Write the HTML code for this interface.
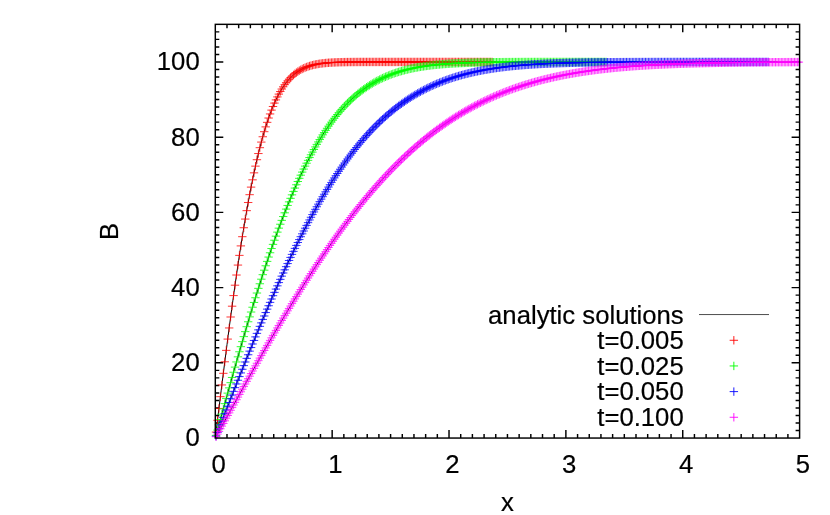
<!DOCTYPE html>
<html><head><meta charset="utf-8"><title>plot</title><style>html,body{margin:0;padding:0;background:#fff}svg{display:block;will-change:transform}text{font-family:"Liberation Sans",sans-serif;font-size:25.7px;fill:#000;stroke:#000;stroke-width:0.2px}</style></head><body>
<svg width="830" height="515" viewBox="0 0 830 515">
<rect width="830" height="515" fill="#fff"/>
<path d="M226.99 438.05v-4.00M226.99 24.34v4.00M238.67 438.05v-4.00M238.67 24.34v4.00M250.36 438.05v-4.00M250.36 24.34v4.00M262.04 438.05v-4.00M262.04 24.34v4.00M273.73 438.05v-4.00M273.73 24.34v4.00M285.42 438.05v-4.00M285.42 24.34v4.00M297.10 438.05v-4.00M297.10 24.34v4.00M308.79 438.05v-4.00M308.79 24.34v4.00M320.47 438.05v-4.00M320.47 24.34v4.00M332.16 438.05v-8.00M332.16 24.34v8.00M343.85 438.05v-4.00M343.85 24.34v4.00M355.53 438.05v-4.00M355.53 24.34v4.00M367.22 438.05v-4.00M367.22 24.34v4.00M378.90 438.05v-4.00M378.90 24.34v4.00M390.59 438.05v-4.00M390.59 24.34v4.00M402.28 438.05v-4.00M402.28 24.34v4.00M413.96 438.05v-4.00M413.96 24.34v4.00M425.65 438.05v-4.00M425.65 24.34v4.00M437.33 438.05v-4.00M437.33 24.34v4.00M449.02 438.05v-8.00M449.02 24.34v8.00M460.71 438.05v-4.00M460.71 24.34v4.00M472.39 438.05v-4.00M472.39 24.34v4.00M484.08 438.05v-4.00M484.08 24.34v4.00M495.76 438.05v-4.00M495.76 24.34v4.00M507.45 438.05v-4.00M507.45 24.34v4.00M519.14 438.05v-4.00M519.14 24.34v4.00M530.82 438.05v-4.00M530.82 24.34v4.00M542.51 438.05v-4.00M542.51 24.34v4.00M554.19 438.05v-4.00M554.19 24.34v4.00M565.88 438.05v-8.00M565.88 24.34v8.00M577.57 438.05v-4.00M577.57 24.34v4.00M589.25 438.05v-4.00M589.25 24.34v4.00M600.94 438.05v-4.00M600.94 24.34v4.00M612.62 438.05v-4.00M612.62 24.34v4.00M624.31 438.05v-4.00M624.31 24.34v4.00M636.00 438.05v-4.00M636.00 24.34v4.00M647.68 438.05v-4.00M647.68 24.34v4.00M659.37 438.05v-4.00M659.37 24.34v4.00M671.05 438.05v-4.00M671.05 24.34v4.00M682.74 438.05v-8.00M682.74 24.34v8.00M694.43 438.05v-4.00M694.43 24.34v4.00M706.11 438.05v-4.00M706.11 24.34v4.00M717.80 438.05v-4.00M717.80 24.34v4.00M729.48 438.05v-4.00M729.48 24.34v4.00M741.17 438.05v-4.00M741.17 24.34v4.00M752.86 438.05v-4.00M752.86 24.34v4.00M764.54 438.05v-4.00M764.54 24.34v4.00M776.23 438.05v-4.00M776.23 24.34v4.00M787.91 438.05v-4.00M787.91 24.34v4.00M215.30 430.53h4.00M799.60 430.53h-4.00M215.30 423.01h4.00M799.60 423.01h-4.00M215.30 415.48h4.00M799.60 415.48h-4.00M215.30 407.96h4.00M799.60 407.96h-4.00M215.30 400.44h4.00M799.60 400.44h-4.00M215.30 392.92h4.00M799.60 392.92h-4.00M215.30 385.40h4.00M799.60 385.40h-4.00M215.30 377.87h4.00M799.60 377.87h-4.00M215.30 370.35h4.00M799.60 370.35h-4.00M215.30 362.83h8.00M799.60 362.83h-8.00M215.30 355.31h4.00M799.60 355.31h-4.00M215.30 347.79h4.00M799.60 347.79h-4.00M215.30 340.26h4.00M799.60 340.26h-4.00M215.30 332.74h4.00M799.60 332.74h-4.00M215.30 325.22h4.00M799.60 325.22h-4.00M215.30 317.70h4.00M799.60 317.70h-4.00M215.30 310.18h4.00M799.60 310.18h-4.00M215.30 302.65h4.00M799.60 302.65h-4.00M215.30 295.13h4.00M799.60 295.13h-4.00M215.30 287.61h8.00M799.60 287.61h-8.00M215.30 280.09h4.00M799.60 280.09h-4.00M215.30 272.57h4.00M799.60 272.57h-4.00M215.30 265.04h4.00M799.60 265.04h-4.00M215.30 257.52h4.00M799.60 257.52h-4.00M215.30 250.00h4.00M799.60 250.00h-4.00M215.30 242.48h4.00M799.60 242.48h-4.00M215.30 234.96h4.00M799.60 234.96h-4.00M215.30 227.43h4.00M799.60 227.43h-4.00M215.30 219.91h4.00M799.60 219.91h-4.00M215.30 212.39h8.00M799.60 212.39h-8.00M215.30 204.87h4.00M799.60 204.87h-4.00M215.30 197.35h4.00M799.60 197.35h-4.00M215.30 189.82h4.00M799.60 189.82h-4.00M215.30 182.30h4.00M799.60 182.30h-4.00M215.30 174.78h4.00M799.60 174.78h-4.00M215.30 167.26h4.00M799.60 167.26h-4.00M215.30 159.74h4.00M799.60 159.74h-4.00M215.30 152.21h4.00M799.60 152.21h-4.00M215.30 144.69h4.00M799.60 144.69h-4.00M215.30 137.17h8.00M799.60 137.17h-8.00M215.30 129.65h4.00M799.60 129.65h-4.00M215.30 122.13h4.00M799.60 122.13h-4.00M215.30 114.60h4.00M799.60 114.60h-4.00M215.30 107.08h4.00M799.60 107.08h-4.00M215.30 99.56h4.00M799.60 99.56h-4.00M215.30 92.04h4.00M799.60 92.04h-4.00M215.30 84.52h4.00M799.60 84.52h-4.00M215.30 76.99h4.00M799.60 76.99h-4.00M215.30 69.47h4.00M799.60 69.47h-4.00M215.30 61.95h8.00M799.60 61.95h-8.00M215.30 54.43h4.00M799.60 54.43h-4.00M215.30 46.91h4.00M799.60 46.91h-4.00M215.30 39.38h4.00M799.60 39.38h-4.00M215.30 31.86h4.00M799.60 31.86h-4.00" stroke="#000" stroke-width="1.45" fill="none"/>
<polyline points="215.30,438.05 216.47,428.56 217.64,419.08 218.81,409.62 219.97,400.19 221.14,390.80 222.31,381.45 223.48,372.16 224.65,362.94 225.82,353.78 226.99,344.71 228.15,335.73 229.32,326.85 230.49,318.07 231.66,309.41 232.83,300.87 234.00,292.45 235.17,284.17 236.33,276.03 237.50,268.03 238.67,260.19 239.84,252.50 241.01,244.97 242.18,237.60 243.35,230.40 244.52,223.37 245.68,216.51 246.85,209.84 248.02,203.33 249.19,197.01 250.36,190.87 251.53,184.91 252.70,179.13 253.86,173.54 255.03,168.12 256.20,162.89 257.37,157.83 258.54,152.96 259.71,148.26 260.88,143.74 262.04,139.39 263.21,135.21 264.38,131.20 265.55,127.35 266.72,123.67 267.89,120.14 269.06,116.77 270.22,113.55 271.39,110.48 272.56,107.56 273.73,104.77 274.90,102.12 276.07,99.60 277.24,97.20 278.40,94.94 279.57,92.79 280.74,90.75 281.91,88.83 283.08,87.01 284.25,85.30 285.42,83.68 286.58,82.16 287.75,80.73 288.92,79.38 290.09,78.12 291.26,76.93 292.43,75.82 293.60,74.78 294.76,73.81 295.93,72.90 297.10,72.05 298.27,71.26 299.44,70.52 300.61,69.84 301.78,69.20 302.94,68.61 304.11,68.06 305.28,67.55 306.45,67.08 307.62,66.64 308.79,66.24 309.96,65.87 311.13,65.53 312.29,65.21 313.46,64.92 314.63,64.65 315.80,64.41 316.97,64.18 318.14,63.98 319.31,63.79 320.47,63.61 321.64,63.46 322.81,63.31 323.98,63.18 325.15,63.06 326.32,62.95 327.49,62.85 328.65,62.76 329.82,62.68 330.99,62.61 332.16,62.54 333.33,62.48 334.50,62.42 335.67,62.37 336.83,62.33 338.00,62.29 339.17,62.25 340.34,62.22 341.51,62.19 342.68,62.16 343.85,62.14 345.01,62.12 346.18,62.10 347.35,62.08 348.52,62.07 349.69,62.05 350.86,62.04 352.03,62.03 353.19,62.02 354.36,62.01 355.53,62.01 356.70,62.00 357.87,61.99 359.04,61.99 360.21,61.98 361.38,61.98 362.54,61.98 363.71,61.97 364.88,61.97 366.05,61.97 367.22,61.96 368.39,61.96 369.56,61.96 370.72,61.96 371.89,61.96 373.06,61.96 374.23,61.96 375.40,61.96 376.57,61.95 377.74,61.95 378.90,61.95 380.07,61.95 381.24,61.95 382.41,61.95 383.58,61.95 384.75,61.95 385.92,61.95 387.08,61.95 388.25,61.95 389.42,61.95 390.59,61.95 391.76,61.95 392.93,61.95 394.10,61.95 395.26,61.95 396.43,61.95 397.60,61.95 398.77,61.95 399.94,61.95 401.11,61.95 402.28,61.95 403.44,61.95 404.61,61.95 405.78,61.95 406.95,61.95 408.12,61.95 409.29,61.95 410.46,61.95 411.62,61.95 412.79,61.95 413.96,61.95 415.13,61.95 416.30,61.95 417.47,61.95 418.64,61.95 419.80,61.95 420.97,61.95 422.14,61.95 423.31,61.95 424.48,61.95 425.65,61.95 426.82,61.95 427.99,61.95 429.15,61.95 430.32,61.95 431.49,61.95 432.66,61.95 433.83,61.95 435.00,61.95 436.17,61.95 437.33,61.95 438.50,61.95 439.67,61.95 440.84,61.95 442.01,61.95 443.18,61.95 444.35,61.95 445.51,61.95 446.68,61.95 447.85,61.95 449.02,61.95 450.19,61.95 451.36,61.95 452.53,61.95 453.69,61.95 454.86,61.95 456.03,61.95 457.20,61.95 458.37,61.95 459.54,61.95 460.71,61.95 461.87,61.95 463.04,61.95 464.21,61.95 465.38,61.95 466.55,61.95 467.72,61.95 468.89,61.95 470.05,61.95 471.22,61.95 472.39,61.95 473.56,61.95 474.73,61.95 475.90,61.95 477.07,61.95 478.24,61.95 479.40,61.95 480.57,61.95 481.74,61.95 482.91,61.95 484.08,61.95 485.25,61.95 486.42,61.95 487.58,61.95 488.75,61.95 489.92,61.95 491.09,61.95 492.26,61.95 493.43,61.95 494.60,61.95 495.76,61.95" stroke="#000" stroke-width="1" fill="none"/>
<polyline points="215.30,438.05 216.47,433.81 217.64,429.56 218.81,425.32 219.97,421.08 221.14,416.85 222.31,412.62 223.48,408.39 224.65,404.17 225.82,399.96 226.99,395.75 228.15,391.56 229.32,387.37 230.49,383.19 231.66,379.02 232.83,374.87 234.00,370.72 235.17,366.59 236.33,362.48 237.50,358.38 238.67,354.29 239.84,350.22 241.01,346.17 242.18,342.14 243.35,338.12 244.52,334.12 245.68,330.15 246.85,326.19 248.02,322.26 249.19,318.34 250.36,314.45 251.53,310.59 252.70,306.74 253.86,302.93 255.03,299.13 256.20,295.36 257.37,291.62 258.54,287.91 259.71,284.22 260.88,280.56 262.04,276.93 263.21,273.33 264.38,269.76 265.55,266.21 266.72,262.70 267.89,259.22 269.06,255.77 270.22,252.35 271.39,248.97 272.56,245.61 273.73,242.29 274.90,239.00 276.07,235.75 277.24,232.52 278.40,229.34 279.57,226.18 280.74,223.07 281.91,219.98 283.08,216.93 284.25,213.92 285.42,210.94 286.58,208.00 287.75,205.09 288.92,202.22 290.09,199.38 291.26,196.58 292.43,193.82 293.60,191.09 294.76,188.40 295.93,185.75 297.10,183.13 298.27,180.55 299.44,178.00 300.61,175.49 301.78,173.02 302.94,170.58 304.11,168.18 305.28,165.82 306.45,163.49 307.62,161.20 308.79,158.95 309.96,156.73 311.13,154.54 312.29,152.39 313.46,150.28 314.63,148.20 315.80,146.16 316.97,144.15 318.14,142.18 319.31,140.24 320.47,138.33 321.64,136.46 322.81,134.62 323.98,132.82 325.15,131.05 326.32,129.31 327.49,127.61 328.65,125.94 329.82,124.30 330.99,122.69 332.16,121.11 333.33,119.56 334.50,118.05 335.67,116.57 336.83,115.11 338.00,113.69 339.17,112.29 340.34,110.93 341.51,109.59 342.68,108.28 343.85,107.00 345.01,105.75 346.18,104.53 347.35,103.33 348.52,102.16 349.69,101.02 350.86,99.90 352.03,98.81 353.19,97.74 354.36,96.70 355.53,95.68 356.70,94.69 357.87,93.72 359.04,92.77 360.21,91.85 361.38,90.95 362.54,90.07 363.71,89.21 364.88,88.38 366.05,87.56 367.22,86.77 368.39,86.00 369.56,85.24 370.72,84.51 371.89,83.80 373.06,83.10 374.23,82.42 375.40,81.77 376.57,81.13 377.74,80.50 378.90,79.90 380.07,79.31 381.24,78.73 382.41,78.18 383.58,77.63 384.75,77.11 385.92,76.60 387.08,76.10 388.25,75.62 389.42,75.15 390.59,74.70 391.76,74.26 392.93,73.83 394.10,73.41 395.26,73.01 396.43,72.62 397.60,72.24 398.77,71.88 399.94,71.52 401.11,71.18 402.28,70.85 403.44,70.52 404.61,70.21 405.78,69.91 406.95,69.61 408.12,69.33 409.29,69.06 410.46,68.79 411.62,68.53 412.79,68.29 413.96,68.05 415.13,67.81 416.30,67.59 417.47,67.37 418.64,67.16 419.80,66.96 420.97,66.77 422.14,66.58 423.31,66.40 424.48,66.22 425.65,66.05 426.82,65.89 427.99,65.73 429.15,65.58 430.32,65.43 431.49,65.29 432.66,65.16 433.83,65.03 435.00,64.90 436.17,64.78 437.33,64.66 438.50,64.55 439.67,64.44 440.84,64.34 442.01,64.24 443.18,64.14 444.35,64.05 445.51,63.96 446.68,63.87 447.85,63.79 449.02,63.71 450.19,63.63 451.36,63.56 452.53,63.49 453.69,63.42 454.86,63.36 456.03,63.30 457.20,63.24 458.37,63.18 459.54,63.12 460.71,63.07 461.87,63.02 463.04,62.97 464.21,62.93 465.38,62.88 466.55,62.84 467.72,62.80 468.89,62.76 470.05,62.72 471.22,62.68 472.39,62.65 473.56,62.62 474.73,62.59 475.90,62.56 477.07,62.53 478.24,62.50 479.40,62.47 480.57,62.45 481.74,62.42 482.91,62.40 484.08,62.38 485.25,62.36 486.42,62.34 487.58,62.32 488.75,62.30 489.92,62.28 491.09,62.27 492.26,62.25 493.43,62.24 494.60,62.22 495.76,62.21 496.93,62.20 498.10,62.18 499.27,62.17 500.44,62.16 501.61,62.15 502.78,62.14 503.94,62.13 505.11,62.12 506.28,62.11 507.45,62.10 508.62,62.10 509.79,62.09 510.96,62.08 512.12,62.07 513.29,62.07 514.46,62.06 515.63,62.05 516.80,62.05 517.97,62.04 519.14,62.04 520.30,62.03 521.47,62.03 522.64,62.03 523.81,62.02 524.98,62.02 526.15,62.01 527.32,62.01 528.48,62.01 529.65,62.00 530.82,62.00 531.99,62.00 533.16,62.00 534.33,61.99 535.50,61.99 536.66,61.99 537.83,61.99 539.00,61.98 540.17,61.98 541.34,61.98 542.51,61.98 543.68,61.98 544.85,61.98 546.01,61.97 547.18,61.97 548.35,61.97 549.52,61.97 550.69,61.97 551.86,61.97 553.03,61.97 554.19,61.97 555.36,61.96 556.53,61.96 557.70,61.96 558.87,61.96 560.04,61.96 561.21,61.96 562.37,61.96 563.54,61.96 564.71,61.96 565.88,61.96 567.05,61.96 568.22,61.96 569.39,61.96 570.55,61.96 571.72,61.96 572.89,61.96 574.06,61.96 575.23,61.95 576.40,61.95 577.57,61.95 578.73,61.95 579.90,61.95 581.07,61.95 582.24,61.95 583.41,61.95 584.58,61.95 585.75,61.95 586.91,61.95 588.08,61.95 589.25,61.95 590.42,61.95 591.59,61.95 592.76,61.95 593.93,61.95 595.10,61.95 596.26,61.95 597.43,61.95 598.60,61.95 599.77,61.95 600.94,61.95 602.11,61.95 603.28,61.95 604.44,61.95 605.61,61.95 606.78,61.95 607.95,61.95 609.12,61.95 610.29,61.95 611.46,61.95 612.62,61.95" stroke="#000" stroke-width="1" fill="none"/>
<polyline points="215.30,438.05 216.47,435.05 217.64,432.05 218.81,429.05 219.97,426.05 221.14,423.05 222.31,420.06 223.48,417.06 224.65,414.07 225.82,411.08 226.99,408.09 228.15,405.11 229.32,402.13 230.49,399.15 231.66,396.18 232.83,393.21 234.00,390.24 235.17,387.28 236.33,384.33 237.50,381.38 238.67,378.43 239.84,375.49 241.01,372.56 242.18,369.63 243.35,366.72 244.52,363.80 245.68,360.90 246.85,358.00 248.02,355.11 249.19,352.23 250.36,349.36 251.53,346.49 252.70,343.64 253.86,340.79 255.03,337.95 256.20,335.13 257.37,332.31 258.54,329.50 259.71,326.70 260.88,323.92 262.04,321.14 263.21,318.38 264.38,315.62 265.55,312.88 266.72,310.15 267.89,307.43 269.06,304.73 270.22,302.04 271.39,299.35 272.56,296.69 273.73,294.03 274.90,291.39 276.07,288.76 277.24,286.15 278.40,283.55 279.57,280.96 280.74,278.39 281.91,275.83 283.08,273.29 284.25,270.76 285.42,268.24 286.58,265.74 287.75,263.26 288.92,260.79 290.09,258.34 291.26,255.90 292.43,253.48 293.60,251.07 294.76,248.69 295.93,246.31 297.10,243.96 298.27,241.61 299.44,239.29 300.61,236.98 301.78,234.69 302.94,232.42 304.11,230.16 305.28,227.92 306.45,225.70 307.62,223.50 308.79,221.31 309.96,219.14 311.13,216.98 312.29,214.85 313.46,212.73 314.63,210.63 315.80,208.55 316.97,206.49 318.14,204.44 319.31,202.41 320.47,200.40 321.64,198.41 322.81,196.43 323.98,194.48 325.15,192.54 326.32,190.62 327.49,188.72 328.65,186.83 329.82,184.97 330.99,183.12 332.16,181.29 333.33,179.48 334.50,177.69 335.67,175.91 336.83,174.16 338.00,172.42 339.17,170.70 340.34,169.00 341.51,167.31 342.68,165.65 343.85,164.00 345.01,162.37 346.18,160.76 347.35,159.16 348.52,157.59 349.69,156.03 350.86,154.49 352.03,152.97 353.19,151.46 354.36,149.97 355.53,148.51 356.70,147.05 357.87,145.62 359.04,144.20 360.21,142.80 361.38,141.42 362.54,140.05 363.71,138.71 364.88,137.38 366.05,136.06 367.22,134.76 368.39,133.48 369.56,132.22 370.72,130.97 371.89,129.74 373.06,128.53 374.23,127.33 375.40,126.15 376.57,124.98 377.74,123.83 378.90,122.70 380.07,121.58 381.24,120.47 382.41,119.39 383.58,118.32 384.75,117.26 385.92,116.22 387.08,115.19 388.25,114.18 389.42,113.18 390.59,112.20 391.76,111.24 392.93,110.28 394.10,109.34 395.26,108.42 396.43,107.51 397.60,106.62 398.77,105.73 399.94,104.87 401.11,104.01 402.28,103.17 403.44,102.34 404.61,101.53 405.78,100.73 406.95,99.94 408.12,99.16 409.29,98.40 410.46,97.65 411.62,96.91 412.79,96.19 413.96,95.47 415.13,94.77 416.30,94.08 417.47,93.40 418.64,92.74 419.80,92.08 420.97,91.44 422.14,90.81 423.31,90.19 424.48,89.58 425.65,88.98 426.82,88.39 427.99,87.81 429.15,87.24 430.32,86.69 431.49,86.14 432.66,85.60 433.83,85.07 435.00,84.56 436.17,84.05 437.33,83.55 438.50,83.06 439.67,82.58 440.84,82.11 442.01,81.65 443.18,81.20 444.35,80.75 445.51,80.32 446.68,79.89 447.85,79.47 449.02,79.06 450.19,78.66 451.36,78.27 452.53,77.88 453.69,77.50 454.86,77.13 456.03,76.77 457.20,76.41 458.37,76.06 459.54,75.72 460.71,75.39 461.87,75.06 463.04,74.74 464.21,74.43 465.38,74.12 466.55,73.82 467.72,73.52 468.89,73.24 470.05,72.95 471.22,72.68 472.39,72.41 473.56,72.14 474.73,71.89 475.90,71.63 477.07,71.39 478.24,71.15 479.40,70.91 480.57,70.68 481.74,70.45 482.91,70.23 484.08,70.02 485.25,69.81 486.42,69.60 487.58,69.40 488.75,69.20 489.92,69.01 491.09,68.82 492.26,68.64 493.43,68.46 494.60,68.29 495.76,68.12 496.93,67.95 498.10,67.79 499.27,67.63 500.44,67.47 501.61,67.32 502.78,67.18 503.94,67.03 505.11,66.89 506.28,66.75 507.45,66.62 508.62,66.49 509.79,66.36 510.96,66.24 512.12,66.12 513.29,66.00 514.46,65.89 515.63,65.77 516.80,65.67 517.97,65.56 519.14,65.46 520.30,65.36 521.47,65.26 522.64,65.16 523.81,65.07 524.98,64.98 526.15,64.89 527.32,64.80 528.48,64.72 529.65,64.64 530.82,64.56 531.99,64.48 533.16,64.41 534.33,64.33 535.50,64.26 536.66,64.19 537.83,64.12 539.00,64.06 540.17,63.99 541.34,63.93 542.51,63.87 543.68,63.81 544.85,63.76 546.01,63.70 547.18,63.65 548.35,63.59 549.52,63.54 550.69,63.49 551.86,63.45 553.03,63.40 554.19,63.35 555.36,63.31 556.53,63.27 557.70,63.22 558.87,63.18 560.04,63.15 561.21,63.11 562.37,63.07 563.54,63.03 564.71,63.00 565.88,62.97 567.05,62.93 568.22,62.90 569.39,62.87 570.55,62.84 571.72,62.81 572.89,62.78 574.06,62.76 575.23,62.73 576.40,62.70 577.57,62.68 578.73,62.65 579.90,62.63 581.07,62.61 582.24,62.59 583.41,62.56 584.58,62.54 585.75,62.52 586.91,62.50 588.08,62.49 589.25,62.47 590.42,62.45 591.59,62.43 592.76,62.42 593.93,62.40 595.10,62.38 596.26,62.37 597.43,62.35 598.60,62.34 599.77,62.33 600.94,62.31 602.11,62.30 603.28,62.29 604.44,62.28 605.61,62.27 606.78,62.25 607.95,62.24 609.12,62.23 610.29,62.22 611.46,62.21 612.62,62.20 613.79,62.19 614.96,62.19 616.13,62.18 617.30,62.17 618.47,62.16 619.64,62.15 620.80,62.15 621.97,62.14 623.14,62.13 624.31,62.12 625.48,62.12 626.65,62.11 627.82,62.11 628.98,62.10 630.15,62.09 631.32,62.09 632.49,62.08 633.66,62.08 634.83,62.07 636.00,62.07 637.16,62.07 638.33,62.06 639.50,62.06 640.67,62.05 641.84,62.05 643.01,62.04 644.18,62.04 645.34,62.04 646.51,62.03 647.68,62.03 648.85,62.03 650.02,62.02 651.19,62.02 652.36,62.02 653.53,62.02 654.69,62.01 655.86,62.01 657.03,62.01 658.20,62.01 659.37,62.00 660.54,62.00 661.71,62.00 662.87,62.00 664.04,62.00 665.21,61.99 666.38,61.99 667.55,61.99 668.72,61.99 669.89,61.99 671.05,61.99 672.22,61.98 673.39,61.98 674.56,61.98 675.73,61.98 676.90,61.98 678.07,61.98 679.23,61.98 680.40,61.98 681.57,61.97 682.74,61.97 683.91,61.97 685.08,61.97 686.25,61.97 687.41,61.97 688.58,61.97 689.75,61.97 690.92,61.97 692.09,61.97 693.26,61.97 694.43,61.97 695.59,61.96 696.76,61.96 697.93,61.96 699.10,61.96 700.27,61.96 701.44,61.96 702.61,61.96 703.77,61.96 704.94,61.96 706.11,61.96 707.28,61.96 708.45,61.96 709.62,61.96 710.79,61.96 711.95,61.96 713.12,61.96 714.29,61.96 715.46,61.96 716.63,61.96 717.80,61.96 718.97,61.96 720.14,61.96 721.30,61.96 722.47,61.96 723.64,61.96 724.81,61.95 725.98,61.95 727.15,61.95 728.32,61.95 729.48,61.95 730.65,61.95 731.82,61.95 732.99,61.95 734.16,61.95 735.33,61.95 736.50,61.95 737.66,61.95 738.83,61.95 740.00,61.95 741.17,61.95 742.34,61.95 743.51,61.95 744.68,61.95 745.84,61.95 747.01,61.95 748.18,61.95 749.35,61.95 750.52,61.95 751.69,61.95 752.86,61.95 754.02,61.95 755.19,61.95 756.36,61.95 757.53,61.95 758.70,61.95 759.87,61.95 761.04,61.95 762.20,61.95 763.37,61.95 764.54,61.95 765.71,61.95 766.88,61.95 768.05,61.95 769.22,61.95 770.38,61.95 771.55,61.95 772.72,61.95 773.89,61.95 775.06,61.95 776.23,61.95 777.40,61.95" stroke="#000" stroke-width="1" fill="none"/>
<polyline points="215.30,438.05 216.47,435.93 217.64,433.81 218.81,431.68 219.97,429.56 221.14,427.44 222.31,425.32 223.48,423.20 224.65,421.08 225.82,418.97 226.99,416.85 228.15,414.73 229.32,412.62 230.49,410.50 231.66,408.39 232.83,406.28 234.00,404.17 235.17,402.06 236.33,399.96 237.50,397.85 238.67,395.75 239.84,393.65 241.01,391.56 242.18,389.46 243.35,387.37 244.52,385.28 245.68,383.19 246.85,381.10 248.02,379.02 249.19,376.94 250.36,374.87 251.53,372.79 252.70,370.72 253.86,368.66 255.03,366.59 256.20,364.53 257.37,362.48 258.54,360.43 259.71,358.38 260.88,356.33 262.04,354.29 263.21,352.25 264.38,350.22 265.55,348.19 266.72,346.17 267.89,344.15 269.06,342.14 270.22,340.13 271.39,338.12 272.56,336.12 273.73,334.12 274.90,332.13 276.07,330.15 277.24,328.17 278.40,326.19 279.57,324.22 280.74,322.26 281.91,320.30 283.08,318.34 284.25,316.40 285.42,314.45 286.58,312.52 287.75,310.59 288.92,308.66 290.09,306.74 291.26,304.83 292.43,302.93 293.60,301.03 294.76,299.13 295.93,297.24 297.10,295.36 298.27,293.49 299.44,291.62 300.61,289.76 301.78,287.91 302.94,286.06 304.11,284.22 305.28,282.39 306.45,280.56 307.62,278.74 308.79,276.93 309.96,275.13 311.13,273.33 312.29,271.54 313.46,269.76 314.63,267.98 315.80,266.21 316.97,264.46 318.14,262.70 319.31,260.96 320.47,259.22 321.64,257.49 322.81,255.77 323.98,254.06 325.15,252.35 326.32,250.66 327.49,248.97 328.65,247.28 329.82,245.61 330.99,243.95 332.16,242.29 333.33,240.64 334.50,239.00 335.67,237.37 336.83,235.75 338.00,234.13 339.17,232.52 340.34,230.93 341.51,229.34 342.68,227.76 343.85,226.18 345.01,224.62 346.18,223.07 347.35,221.52 348.52,219.98 349.69,218.45 350.86,216.93 352.03,215.42 353.19,213.92 354.36,212.42 355.53,210.94 356.70,209.46 357.87,208.00 359.04,206.54 360.21,205.09 361.38,203.65 362.54,202.22 363.71,200.80 364.88,199.38 366.05,197.98 367.22,196.58 368.39,195.20 369.56,193.82 370.72,192.45 371.89,191.09 373.06,189.74 374.23,188.40 375.40,187.07 376.57,185.75 377.74,184.43 378.90,183.13 380.07,181.83 381.24,180.55 382.41,179.27 383.58,178.00 384.75,176.74 385.92,175.49 387.08,174.25 388.25,173.02 389.42,171.80 390.59,170.58 391.76,169.38 392.93,168.18 394.10,167.00 395.26,165.82 396.43,164.65 397.60,163.49 398.77,162.34 399.94,161.20 401.11,160.07 402.28,158.95 403.44,157.83 404.61,156.73 405.78,155.63 406.95,154.54 408.12,153.46 409.29,152.39 410.46,151.33 411.62,150.28 412.79,149.24 413.96,148.20 415.13,147.18 416.30,146.16 417.47,145.15 418.64,144.15 419.80,143.16 420.97,142.18 422.14,141.20 423.31,140.24 424.48,139.28 425.65,138.33 426.82,137.39 427.99,136.46 429.15,135.54 430.32,134.62 431.49,133.72 432.66,132.82 433.83,131.93 435.00,131.05 436.17,130.18 437.33,129.31 438.50,128.46 439.67,127.61 440.84,126.77 442.01,125.94 443.18,125.11 444.35,124.30 445.51,123.49 446.68,122.69 447.85,121.89 449.02,121.11 450.19,120.33 451.36,119.56 452.53,118.80 453.69,118.05 454.86,117.30 456.03,116.57 457.20,115.83 458.37,115.11 459.54,114.40 460.71,113.69 461.87,112.99 463.04,112.29 464.21,111.61 465.38,110.93 466.55,110.26 467.72,109.59 468.89,108.93 470.05,108.28 471.22,107.64 472.39,107.00 473.56,106.38 474.73,105.75 475.90,105.14 477.07,104.53 478.24,103.93 479.40,103.33 480.57,102.74 481.74,102.16 482.91,101.59 484.08,101.02 485.25,100.46 486.42,99.90 487.58,99.35 488.75,98.81 489.92,98.27 491.09,97.74 492.26,97.22 493.43,96.70 494.60,96.19 495.76,95.68 496.93,95.18 498.10,94.69 499.27,94.20 500.44,93.72 501.61,93.24 502.78,92.77 503.94,92.31 505.11,91.85 506.28,91.39 507.45,90.95 508.62,90.51 509.79,90.07 510.96,89.64 512.12,89.21 513.29,88.79 514.46,88.38 515.63,87.97 516.80,87.56 517.97,87.16 519.14,86.77 520.30,86.38 521.47,86.00 522.64,85.62 523.81,85.24 524.98,84.87 526.15,84.51 527.32,84.15 528.48,83.80 529.65,83.45 530.82,83.10 531.99,82.76 533.16,82.42 534.33,82.09 535.50,81.77 536.66,81.44 537.83,81.13 539.00,80.81 540.17,80.50 541.34,80.20 542.51,79.90 543.68,79.60 544.85,79.31 546.01,79.02 547.18,78.73 548.35,78.45 549.52,78.18 550.69,77.90 551.86,77.63 553.03,77.37 554.19,77.11 555.36,76.85 556.53,76.60 557.70,76.35 558.87,76.10 560.04,75.86 561.21,75.62 562.37,75.38 563.54,75.15 564.71,74.92 565.88,74.70 567.05,74.48 568.22,74.26 569.39,74.04 570.55,73.83 571.72,73.62 572.89,73.41 574.06,73.21 575.23,73.01 576.40,72.82 577.57,72.62 578.73,72.43 579.90,72.24 581.07,72.06 582.24,71.88 583.41,71.70 584.58,71.52 585.75,71.35 586.91,71.18 588.08,71.01 589.25,70.85 590.42,70.68 591.59,70.52 592.76,70.36 593.93,70.21 595.10,70.06 596.26,69.91 597.43,69.76 598.60,69.61 599.77,69.47 600.94,69.33 602.11,69.19 603.28,69.06 604.44,68.92 605.61,68.79 606.78,68.66 607.95,68.53 609.12,68.41 610.29,68.29 611.46,68.17 612.62,68.05 613.79,67.93 614.96,67.81 616.13,67.70 617.30,67.59 618.47,67.48 619.64,67.37 620.80,67.27 621.97,67.16 623.14,67.06 624.31,66.96 625.48,66.86 626.65,66.77 627.82,66.67 628.98,66.58 630.15,66.49 631.32,66.40 632.49,66.31 633.66,66.22 634.83,66.14 636.00,66.05 637.16,65.97 638.33,65.89 639.50,65.81 640.67,65.73 641.84,65.66 643.01,65.58 644.18,65.51 645.34,65.43 646.51,65.36 647.68,65.29 648.85,65.22 650.02,65.16 651.19,65.09 652.36,65.03 653.53,64.96 654.69,64.90 655.86,64.84 657.03,64.78 658.20,64.72 659.37,64.66 660.54,64.60 661.71,64.55 662.87,64.49 664.04,64.44 665.21,64.39 666.38,64.34 667.55,64.29 668.72,64.24 669.89,64.19 671.05,64.14 672.22,64.09 673.39,64.05 674.56,64.00 675.73,63.96 676.90,63.91 678.07,63.87 679.23,63.83 680.40,63.79 681.57,63.75 682.74,63.71 683.91,63.67 685.08,63.63 686.25,63.60 687.41,63.56 688.58,63.52 689.75,63.49 690.92,63.46 692.09,63.42 693.26,63.39 694.43,63.36 695.59,63.33 696.76,63.30 697.93,63.26 699.10,63.24 700.27,63.21 701.44,63.18 702.61,63.15 703.77,63.12 704.94,63.10 706.11,63.07 707.28,63.05 708.45,63.02 709.62,63.00 710.79,62.97 711.95,62.95 713.12,62.93 714.29,62.90 715.46,62.88 716.63,62.86 717.80,62.84 718.97,62.82 720.14,62.80 721.30,62.78 722.47,62.76 723.64,62.74 724.81,62.72 725.98,62.70 727.15,62.68 728.32,62.67 729.48,62.65 730.65,62.63 731.82,62.62 732.99,62.60 734.16,62.59 735.33,62.57 736.50,62.56 737.66,62.54 738.83,62.53 740.00,62.51 741.17,62.50 742.34,62.49 743.51,62.47 744.68,62.46 745.84,62.45 747.01,62.44 748.18,62.42 749.35,62.41 750.52,62.40 751.69,62.39 752.86,62.38 754.02,62.37 755.19,62.36 756.36,62.35 757.53,62.34 758.70,62.33 759.87,62.32 761.04,62.31 762.20,62.30 763.37,62.29 764.54,62.28 765.71,62.28 766.88,62.27 768.05,62.26 769.22,62.25 770.38,62.24 771.55,62.24 772.72,62.23 773.89,62.22 775.06,62.22 776.23,62.21 777.40,62.20 778.57,62.20 779.73,62.19 780.90,62.18 782.07,62.18 783.24,62.17 784.41,62.17 785.58,62.16 786.75,62.15 787.91,62.15 789.08,62.14 790.25,62.14 791.42,62.13 792.59,62.13 793.76,62.12 794.93,62.12 796.09,62.12 797.26,62.11 798.43,62.11 799.60,62.10" stroke="#000" stroke-width="1" fill="none"/>
<path d="M211.83 432.12h8.4M216.03 427.92v8.4M213.29 420.27h8.4M217.49 416.07v8.4M214.75 408.44h8.4M218.95 404.24v8.4M216.21 396.67h8.4M220.41 392.47v8.4M217.67 384.95h8.4M221.87 380.75v8.4M219.13 373.32h8.4M223.33 369.12v8.4M220.59 361.79h8.4M224.79 357.59v8.4M222.06 350.37h8.4M226.26 346.17v8.4M223.52 339.09h8.4M227.72 334.89v8.4M224.98 327.96h8.4M229.18 323.76v8.4M226.44 316.99h8.4M230.64 312.79v8.4M227.90 306.19h8.4M232.10 301.99v8.4M229.36 295.60h8.4M233.56 291.40v8.4M230.82 285.20h8.4M235.02 281.00v8.4M232.28 275.02h8.4M236.48 270.82v8.4M233.74 265.07h8.4M237.94 260.87v8.4M235.20 255.36h8.4M239.40 251.16v8.4M236.66 245.90h8.4M240.86 241.70v8.4M238.12 236.69h8.4M242.32 232.49v8.4M239.58 227.74h8.4M243.78 223.54v8.4M241.05 219.07h8.4M245.25 214.87v8.4M242.51 210.66h8.4M246.71 206.46v8.4M243.97 202.53h8.4M248.17 198.33v8.4M245.43 194.69h8.4M249.63 190.49v8.4M246.89 187.12h8.4M251.09 182.92v8.4M248.35 179.84h8.4M252.55 175.64v8.4M249.81 172.85h8.4M254.01 168.65v8.4M251.27 166.14h8.4M255.47 161.94v8.4M252.73 159.71h8.4M256.93 155.51v8.4M254.19 153.56h8.4M258.39 149.36v8.4M255.65 147.69h8.4M259.85 143.49v8.4M257.11 142.09h8.4M261.31 137.89v8.4M258.57 136.76h8.4M262.77 132.56v8.4M260.04 131.69h8.4M264.24 127.49v8.4M261.50 126.88h8.4M265.70 122.68v8.4M262.96 122.33h8.4M267.16 118.13v8.4M264.42 118.02h8.4M268.62 113.82v8.4M265.88 113.95h8.4M270.08 109.75v8.4M267.34 110.11h8.4M271.54 105.91v8.4M268.80 106.49h8.4M273.00 102.29v8.4M270.26 103.09h8.4M274.46 98.89v8.4M271.72 99.90h8.4M275.92 95.70v8.4M273.18 96.91h8.4M277.38 92.71v8.4M274.64 94.12h8.4M278.84 89.92v8.4M276.10 91.50h8.4M280.30 87.30v8.4M277.56 89.06h8.4M281.76 84.86v8.4M279.02 86.79h8.4M283.22 82.59v8.4M280.49 84.68h8.4M284.69 80.48v8.4M281.95 82.72h8.4M286.15 78.52v8.4M283.41 80.90h8.4M287.61 76.70v8.4M284.87 79.22h8.4M289.07 75.02v8.4M286.33 77.66h8.4M290.53 73.46v8.4M287.79 76.23h8.4M291.99 72.03v8.4M289.25 74.91h8.4M293.45 70.71v8.4M290.71 73.69h8.4M294.91 69.49v8.4M292.17 72.57h8.4M296.37 68.37v8.4M293.63 71.55h8.4M297.83 67.35v8.4M295.09 70.61h8.4M299.29 66.41v8.4M296.55 69.76h8.4M300.75 65.56v8.4M298.01 68.97h8.4M302.21 64.77v8.4M299.48 68.26h8.4M303.68 64.06v8.4M300.94 67.61h8.4M305.14 63.41v8.4M302.40 67.02h8.4M306.60 62.82v8.4M303.86 66.49h8.4M308.06 62.29v8.4M305.32 66.01h8.4M309.52 61.81v8.4M306.78 65.57h8.4M310.98 61.37v8.4M308.24 65.17h8.4M312.44 60.97v8.4M309.70 64.82h8.4M313.90 60.62v8.4M311.16 64.50h8.4M315.36 60.30v8.4M312.62 64.21h8.4M316.82 60.01v8.4M314.08 63.95h8.4M318.28 59.75v8.4M315.54 63.72h8.4M319.74 59.52v8.4M317.00 63.51h8.4M321.20 59.31v8.4M318.47 63.33h8.4M322.67 59.13v8.4M319.93 63.17h8.4M324.13 58.97v8.4M321.39 63.02h8.4M325.59 58.82v8.4M322.85 62.89h8.4M327.05 58.69v8.4M324.31 62.77h8.4M328.51 58.57v8.4M325.77 62.67h8.4M329.97 58.47v8.4M327.23 62.58h8.4M331.43 58.38v8.4M328.69 62.50h8.4M332.89 58.30v8.4M330.15 62.43h8.4M334.35 58.23v8.4M331.61 62.37h8.4M335.81 58.17v8.4M333.07 62.31h8.4M337.27 58.11v8.4M334.53 62.26h8.4M338.73 58.06v8.4M335.99 62.22h8.4M340.19 58.02v8.4M337.45 62.19h8.4M341.65 57.99v8.4M338.92 62.15h8.4M343.12 57.95v8.4M340.38 62.13h8.4M344.58 57.93v8.4M341.84 62.10h8.4M346.04 57.90v8.4M343.30 62.08h8.4M347.50 57.88v8.4M344.76 62.06h8.4M348.96 57.86v8.4M346.22 62.05h8.4M350.42 57.85v8.4M347.68 62.03h8.4M351.88 57.83v8.4M349.14 62.02h8.4M353.34 57.82v8.4M350.60 62.01h8.4M354.80 57.81v8.4M352.06 62.00h8.4M356.26 57.80v8.4M353.52 61.99h8.4M357.72 57.79v8.4M354.98 61.99h8.4M359.18 57.79v8.4M356.44 61.98h8.4M360.64 57.78v8.4M357.91 61.98h8.4M362.11 57.78v8.4M359.37 61.97h8.4M363.57 57.77v8.4M360.83 61.97h8.4M365.03 57.77v8.4M362.29 61.97h8.4M366.49 57.77v8.4M363.75 61.96h8.4M367.95 57.76v8.4M365.21 61.96h8.4M369.41 57.76v8.4M366.67 61.96h8.4M370.87 57.76v8.4M368.13 61.96h8.4M372.33 57.76v8.4M369.59 61.96h8.4M373.79 57.76v8.4M371.05 61.96h8.4M375.25 57.76v8.4M372.51 61.95h8.4M376.71 57.75v8.4M373.97 61.95h8.4M378.17 57.75v8.4M375.43 61.95h8.4M379.63 57.75v8.4M376.90 61.95h8.4M381.10 57.75v8.4M378.36 61.95h8.4M382.56 57.75v8.4M379.82 61.95h8.4M384.02 57.75v8.4M381.28 61.95h8.4M385.48 57.75v8.4M382.74 61.95h8.4M386.94 57.75v8.4M384.20 61.95h8.4M388.40 57.75v8.4M385.66 61.95h8.4M389.86 57.75v8.4M387.12 61.95h8.4M391.32 57.75v8.4M388.58 61.95h8.4M392.78 57.75v8.4M390.04 61.95h8.4M394.24 57.75v8.4M391.50 61.95h8.4M395.70 57.75v8.4M392.96 61.95h8.4M397.16 57.75v8.4M394.42 61.95h8.4M398.62 57.75v8.4M395.88 61.95h8.4M400.08 57.75v8.4M397.35 61.95h8.4M401.55 57.75v8.4M398.81 61.95h8.4M403.01 57.75v8.4M400.27 61.95h8.4M404.47 57.75v8.4M401.73 61.95h8.4M405.93 57.75v8.4M403.19 61.95h8.4M407.39 57.75v8.4M404.65 61.95h8.4M408.85 57.75v8.4M406.11 61.95h8.4M410.31 57.75v8.4M407.57 61.95h8.4M411.77 57.75v8.4M409.03 61.95h8.4M413.23 57.75v8.4M410.49 61.95h8.4M414.69 57.75v8.4M411.95 61.95h8.4M416.15 57.75v8.4M413.41 61.95h8.4M417.61 57.75v8.4M414.87 61.95h8.4M419.07 57.75v8.4M416.34 61.95h8.4M420.54 57.75v8.4M417.80 61.95h8.4M422.00 57.75v8.4M419.26 61.95h8.4M423.46 57.75v8.4M420.72 61.95h8.4M424.92 57.75v8.4M422.18 61.95h8.4M426.38 57.75v8.4M423.64 61.95h8.4M427.84 57.75v8.4M425.10 61.95h8.4M429.30 57.75v8.4M426.56 61.95h8.4M430.76 57.75v8.4M428.02 61.95h8.4M432.22 57.75v8.4M429.48 61.95h8.4M433.68 57.75v8.4M430.94 61.95h8.4M435.14 57.75v8.4M432.40 61.95h8.4M436.60 57.75v8.4M433.86 61.95h8.4M438.06 57.75v8.4M435.33 61.95h8.4M439.53 57.75v8.4M436.79 61.95h8.4M440.99 57.75v8.4M438.25 61.95h8.4M442.45 57.75v8.4M439.71 61.95h8.4M443.91 57.75v8.4M441.17 61.95h8.4M445.37 57.75v8.4M442.63 61.95h8.4M446.83 57.75v8.4M444.09 61.95h8.4M448.29 57.75v8.4M445.55 61.95h8.4M449.75 57.75v8.4M447.01 61.95h8.4M451.21 57.75v8.4M448.47 61.95h8.4M452.67 57.75v8.4M449.93 61.95h8.4M454.13 57.75v8.4M451.39 61.95h8.4M455.59 57.75v8.4M452.85 61.95h8.4M457.05 57.75v8.4M454.31 61.95h8.4M458.51 57.75v8.4M455.78 61.95h8.4M459.98 57.75v8.4M457.24 61.95h8.4M461.44 57.75v8.4M458.70 61.95h8.4M462.90 57.75v8.4M460.16 61.95h8.4M464.36 57.75v8.4M461.62 61.95h8.4M465.82 57.75v8.4M463.08 61.95h8.4M467.28 57.75v8.4M464.54 61.95h8.4M468.74 57.75v8.4M466.00 61.95h8.4M470.20 57.75v8.4M467.46 61.95h8.4M471.66 57.75v8.4M468.92 61.95h8.4M473.12 57.75v8.4M470.38 61.95h8.4M474.58 57.75v8.4M471.84 61.95h8.4M476.04 57.75v8.4M473.30 61.95h8.4M477.50 57.75v8.4M474.77 61.95h8.4M478.97 57.75v8.4M476.23 61.95h8.4M480.43 57.75v8.4M477.69 61.95h8.4M481.89 57.75v8.4M479.15 61.95h8.4M483.35 57.75v8.4M480.61 61.95h8.4M484.81 57.75v8.4M482.07 61.95h8.4M486.27 57.75v8.4M483.53 61.95h8.4M487.73 57.75v8.4M484.99 61.95h8.4M489.19 57.75v8.4M486.45 61.95h8.4M490.65 57.75v8.4M487.91 61.95h8.4M492.11 57.75v8.4" stroke="#ff0000" stroke-width="0.8" fill="none"/>
<path d="M211.83 435.40h8.4M216.03 431.20v8.4M213.29 430.09h8.4M217.49 425.89v8.4M214.75 424.79h8.4M218.95 420.59v8.4M216.21 419.50h8.4M220.41 415.30v8.4M217.67 414.20h8.4M221.87 410.00v8.4M219.13 408.92h8.4M223.33 404.72v8.4M220.59 403.64h8.4M224.79 399.44v8.4M222.06 398.38h8.4M226.26 394.18v8.4M223.52 393.13h8.4M227.72 388.93v8.4M224.98 387.89h8.4M229.18 383.69v8.4M226.44 382.67h8.4M230.64 378.47v8.4M227.90 377.46h8.4M232.10 373.26v8.4M229.36 372.28h8.4M233.56 368.08v8.4M230.82 367.11h8.4M235.02 362.91v8.4M232.28 361.96h8.4M236.48 357.76v8.4M233.74 356.84h8.4M237.94 352.64v8.4M235.20 351.75h8.4M239.40 347.55v8.4M236.66 346.68h8.4M240.86 342.48v8.4M238.12 341.63h8.4M242.32 337.43v8.4M239.58 336.62h8.4M243.78 332.42v8.4M241.05 331.64h8.4M245.25 327.44v8.4M242.51 326.68h8.4M246.71 322.48v8.4M243.97 321.77h8.4M248.17 317.57v8.4M245.43 316.88h8.4M249.63 312.68v8.4M246.89 312.03h8.4M251.09 307.83v8.4M248.35 307.22h8.4M252.55 303.02v8.4M249.81 302.45h8.4M254.01 298.25v8.4M251.27 297.72h8.4M255.47 293.52v8.4M252.73 293.02h8.4M256.93 288.82v8.4M254.19 288.37h8.4M258.39 284.17v8.4M255.65 283.76h8.4M259.85 279.56v8.4M257.11 279.20h8.4M261.31 275.00v8.4M258.57 274.68h8.4M262.77 270.48v8.4M260.04 270.20h8.4M264.24 266.00v8.4M261.50 265.77h8.4M265.70 261.57v8.4M262.96 261.39h8.4M267.16 257.19v8.4M264.42 257.06h8.4M268.62 252.86v8.4M265.88 252.78h8.4M270.08 248.58v8.4M267.34 248.54h8.4M271.54 244.34v8.4M268.80 244.36h8.4M273.00 240.16v8.4M270.26 240.23h8.4M274.46 236.03v8.4M271.72 236.15h8.4M275.92 231.95v8.4M273.18 232.12h8.4M277.38 227.92v8.4M274.64 228.15h8.4M278.84 223.95v8.4M276.10 224.23h8.4M280.30 220.03v8.4M277.56 220.36h8.4M281.76 216.16v8.4M279.02 216.55h8.4M283.22 212.35v8.4M280.49 212.80h8.4M284.69 208.60v8.4M281.95 209.10h8.4M286.15 204.90v8.4M283.41 205.45h8.4M287.61 201.25v8.4M284.87 201.86h8.4M289.07 197.66v8.4M286.33 198.33h8.4M290.53 194.13v8.4M287.79 194.85h8.4M291.99 190.65v8.4M289.25 191.43h8.4M293.45 187.23v8.4M290.71 188.07h8.4M294.91 183.87v8.4M292.17 184.76h8.4M296.37 180.56v8.4M293.63 181.51h8.4M297.83 177.31v8.4M295.09 178.32h8.4M299.29 174.12v8.4M296.55 175.18h8.4M300.75 170.98v8.4M298.01 172.10h8.4M302.21 167.90v8.4M299.48 169.08h8.4M303.68 164.88v8.4M300.94 166.11h8.4M305.14 161.91v8.4M302.40 163.20h8.4M306.60 159.00v8.4M303.86 160.35h8.4M308.06 156.15v8.4M305.32 157.55h8.4M309.52 153.35v8.4M306.78 154.81h8.4M310.98 150.61v8.4M308.24 152.13h8.4M312.44 147.93v8.4M309.70 149.50h8.4M313.90 145.30v8.4M311.16 146.92h8.4M315.36 142.72v8.4M312.62 144.40h8.4M316.82 140.20v8.4M314.08 141.93h8.4M318.28 137.73v8.4M315.54 139.52h8.4M319.74 135.32v8.4M317.00 137.16h8.4M321.20 132.96v8.4M318.47 134.85h8.4M322.67 130.65v8.4M319.93 132.60h8.4M324.13 128.40v8.4M321.39 130.40h8.4M325.59 126.20v8.4M322.85 128.24h8.4M327.05 124.04v8.4M324.31 126.14h8.4M328.51 121.94v8.4M325.77 124.09h8.4M329.97 119.89v8.4M327.23 122.09h8.4M331.43 117.89v8.4M328.69 120.14h8.4M332.89 115.94v8.4M330.15 118.24h8.4M334.35 114.04v8.4M331.61 116.38h8.4M335.81 112.18v8.4M333.07 114.57h8.4M337.27 110.37v8.4M334.53 112.81h8.4M338.73 108.61v8.4M335.99 111.10h8.4M340.19 106.90v8.4M337.45 109.43h8.4M341.65 105.23v8.4M338.92 107.80h8.4M343.12 103.60v8.4M340.38 106.22h8.4M344.58 102.02v8.4M341.84 104.68h8.4M346.04 100.48v8.4M343.30 103.18h8.4M347.50 98.98v8.4M344.76 101.73h8.4M348.96 97.53v8.4M346.22 100.32h8.4M350.42 96.12v8.4M347.68 98.94h8.4M351.88 94.74v8.4M349.14 97.61h8.4M353.34 93.41v8.4M350.60 96.31h8.4M354.80 92.11v8.4M352.06 95.06h8.4M356.26 90.86v8.4M353.52 93.84h8.4M357.72 89.64v8.4M354.98 92.65h8.4M359.18 88.45v8.4M356.44 91.51h8.4M360.64 87.31v8.4M357.91 90.40h8.4M362.11 86.20v8.4M359.37 89.32h8.4M363.57 85.12v8.4M360.83 88.27h8.4M365.03 84.07v8.4M362.29 87.26h8.4M366.49 83.06v8.4M363.75 86.28h8.4M367.95 82.08v8.4M365.21 85.34h8.4M369.41 81.14v8.4M366.67 84.42h8.4M370.87 80.22v8.4M368.13 83.53h8.4M372.33 79.33v8.4M369.59 82.68h8.4M373.79 78.48v8.4M371.05 81.85h8.4M375.25 77.65v8.4M372.51 81.05h8.4M376.71 76.85v8.4M373.97 80.27h8.4M378.17 76.07v8.4M375.43 79.53h8.4M379.63 75.33v8.4M376.90 78.80h8.4M381.10 74.60v8.4M378.36 78.11h8.4M382.56 73.91v8.4M379.82 77.44h8.4M384.02 73.24v8.4M381.28 76.79h8.4M385.48 72.59v8.4M382.74 76.16h8.4M386.94 71.96v8.4M384.20 75.56h8.4M388.40 71.36v8.4M385.66 74.98h8.4M389.86 70.78v8.4M387.12 74.42h8.4M391.32 70.22v8.4M388.58 73.88h8.4M392.78 69.68v8.4M390.04 73.36h8.4M394.24 69.16v8.4M391.50 72.87h8.4M395.70 68.67v8.4M392.96 72.38h8.4M397.16 68.18v8.4M394.42 71.92h8.4M398.62 67.72v8.4M395.88 71.48h8.4M400.08 67.28v8.4M397.35 71.05h8.4M401.55 66.85v8.4M398.81 70.64h8.4M403.01 66.44v8.4M400.27 70.25h8.4M404.47 66.05v8.4M401.73 69.87h8.4M405.93 65.67v8.4M403.19 69.51h8.4M407.39 65.31v8.4M404.65 69.16h8.4M408.85 64.96v8.4M406.11 68.82h8.4M410.31 64.62v8.4M407.57 68.50h8.4M411.77 64.30v8.4M409.03 68.20h8.4M413.23 64.00v8.4M410.49 67.90h8.4M414.69 63.70v8.4M411.95 67.62h8.4M416.15 63.42v8.4M413.41 67.35h8.4M417.61 63.15v8.4M414.87 67.09h8.4M419.07 62.89v8.4M416.34 66.84h8.4M420.54 62.64v8.4M417.80 66.60h8.4M422.00 62.40v8.4M419.26 66.38h8.4M423.46 62.18v8.4M420.72 66.16h8.4M424.92 61.96v8.4M422.18 65.95h8.4M426.38 61.75v8.4M423.64 65.75h8.4M427.84 61.55v8.4M425.10 65.56h8.4M429.30 61.36v8.4M426.56 65.38h8.4M430.76 61.18v8.4M428.02 65.21h8.4M432.22 61.01v8.4M429.48 65.04h8.4M433.68 60.84v8.4M430.94 64.88h8.4M435.14 60.68v8.4M432.40 64.73h8.4M436.60 60.53v8.4M433.86 64.59h8.4M438.06 60.39v8.4M435.33 64.45h8.4M439.53 60.25v8.4M436.79 64.32h8.4M440.99 60.12v8.4M438.25 64.20h8.4M442.45 60.00v8.4M439.71 64.08h8.4M443.91 59.88v8.4M441.17 63.97h8.4M445.37 59.77v8.4M442.63 63.86h8.4M446.83 59.66v8.4M444.09 63.76h8.4M448.29 59.56v8.4M445.55 63.66h8.4M449.75 59.46v8.4M447.01 63.57h8.4M451.21 59.37v8.4M448.47 63.48h8.4M452.67 59.28v8.4M449.93 63.40h8.4M454.13 59.20v8.4M451.39 63.32h8.4M455.59 59.12v8.4M452.85 63.24h8.4M457.05 59.04v8.4M454.31 63.17h8.4M458.51 58.97v8.4M455.78 63.10h8.4M459.98 58.90v8.4M457.24 63.04h8.4M461.44 58.84v8.4M458.70 62.98h8.4M462.90 58.78v8.4M460.16 62.92h8.4M464.36 58.72v8.4M461.62 62.86h8.4M465.82 58.66v8.4M463.08 62.81h8.4M467.28 58.61v8.4M464.54 62.76h8.4M468.74 58.56v8.4M466.00 62.72h8.4M470.20 58.52v8.4M467.46 62.67h8.4M471.66 58.47v8.4M468.92 62.63h8.4M473.12 58.43v8.4M470.38 62.59h8.4M474.58 58.39v8.4M471.84 62.55h8.4M476.04 58.35v8.4M473.30 62.52h8.4M477.50 58.32v8.4M474.77 62.48h8.4M478.97 58.28v8.4M476.23 62.45h8.4M480.43 58.25v8.4M477.69 62.42h8.4M481.89 58.22v8.4M479.15 62.39h8.4M483.35 58.19v8.4M480.61 62.37h8.4M484.81 58.17v8.4M482.07 62.34h8.4M486.27 58.14v8.4M483.53 62.32h8.4M487.73 58.12v8.4M484.99 62.30h8.4M489.19 58.10v8.4M486.45 62.27h8.4M490.65 58.07v8.4M487.91 62.25h8.4M492.11 58.05v8.4M489.37 62.24h8.4M493.57 58.04v8.4M490.83 62.22h8.4M495.03 58.02v8.4M492.29 62.20h8.4M496.49 58.00v8.4M493.76 62.18h8.4M497.96 57.98v8.4M495.22 62.17h8.4M499.42 57.97v8.4M496.68 62.16h8.4M500.88 57.96v8.4M498.14 62.14h8.4M502.34 57.94v8.4M499.60 62.13h8.4M503.80 57.93v8.4M501.06 62.12h8.4M505.26 57.92v8.4M502.52 62.11h8.4M506.72 57.91v8.4M503.98 62.10h8.4M508.18 57.90v8.4M505.44 62.09h8.4M509.64 57.89v8.4M506.90 62.08h8.4M511.10 57.88v8.4M508.36 62.07h8.4M512.56 57.87v8.4M509.82 62.06h8.4M514.02 57.86v8.4M511.28 62.06h8.4M515.48 57.86v8.4M512.74 62.05h8.4M516.94 57.85v8.4M514.21 62.04h8.4M518.41 57.84v8.4M515.67 62.04h8.4M519.87 57.84v8.4M517.13 62.03h8.4M521.33 57.83v8.4M518.59 62.02h8.4M522.79 57.82v8.4M520.05 62.02h8.4M524.25 57.82v8.4M521.51 62.01h8.4M525.71 57.81v8.4M522.97 62.01h8.4M527.17 57.81v8.4M524.43 62.01h8.4M528.63 57.81v8.4M525.89 62.00h8.4M530.09 57.80v8.4M527.35 62.00h8.4M531.55 57.80v8.4M528.81 62.00h8.4M533.01 57.80v8.4M530.27 61.99h8.4M534.47 57.79v8.4M531.73 61.99h8.4M535.93 57.79v8.4M533.20 61.99h8.4M537.40 57.79v8.4M534.66 61.98h8.4M538.86 57.78v8.4M536.12 61.98h8.4M540.32 57.78v8.4M537.58 61.98h8.4M541.78 57.78v8.4M539.04 61.98h8.4M543.24 57.78v8.4M540.50 61.98h8.4M544.70 57.78v8.4M541.96 61.97h8.4M546.16 57.77v8.4M543.42 61.97h8.4M547.62 57.77v8.4M544.88 61.97h8.4M549.08 57.77v8.4M546.34 61.97h8.4M550.54 57.77v8.4M547.80 61.97h8.4M552.00 57.77v8.4M549.26 61.97h8.4M553.46 57.77v8.4M550.72 61.96h8.4M554.92 57.76v8.4M552.19 61.96h8.4M556.39 57.76v8.4M553.65 61.96h8.4M557.85 57.76v8.4M555.11 61.96h8.4M559.31 57.76v8.4M556.57 61.96h8.4M560.77 57.76v8.4M558.03 61.96h8.4M562.23 57.76v8.4M559.49 61.96h8.4M563.69 57.76v8.4M560.95 61.96h8.4M565.15 57.76v8.4M562.41 61.96h8.4M566.61 57.76v8.4M563.87 61.96h8.4M568.07 57.76v8.4M565.33 61.96h8.4M569.53 57.76v8.4M566.79 61.96h8.4M570.99 57.76v8.4M568.25 61.96h8.4M572.45 57.76v8.4M569.71 61.96h8.4M573.91 57.76v8.4M571.17 61.95h8.4M575.37 57.75v8.4M572.64 61.95h8.4M576.84 57.75v8.4M574.10 61.95h8.4M578.30 57.75v8.4M575.56 61.95h8.4M579.76 57.75v8.4M577.02 61.95h8.4M581.22 57.75v8.4M578.48 61.95h8.4M582.68 57.75v8.4M579.94 61.95h8.4M584.14 57.75v8.4M581.40 61.95h8.4M585.60 57.75v8.4M582.86 61.95h8.4M587.06 57.75v8.4M584.32 61.95h8.4M588.52 57.75v8.4M585.78 61.95h8.4M589.98 57.75v8.4M587.24 61.95h8.4M591.44 57.75v8.4M588.70 61.95h8.4M592.90 57.75v8.4M590.16 61.95h8.4M594.36 57.75v8.4M591.63 61.95h8.4M595.83 57.75v8.4M593.09 61.95h8.4M597.29 57.75v8.4M594.55 61.95h8.4M598.75 57.75v8.4M596.01 61.95h8.4M600.21 57.75v8.4M597.47 61.95h8.4M601.67 57.75v8.4M598.93 61.95h8.4M603.13 57.75v8.4M600.39 61.95h8.4M604.59 57.75v8.4M601.85 61.95h8.4M606.05 57.75v8.4" stroke="#00ff00" stroke-width="0.8" fill="none"/>
<path d="M211.83 436.17h8.4M216.03 431.97v8.4M213.29 432.42h8.4M217.49 428.22v8.4M214.75 428.67h8.4M218.95 424.47v8.4M216.21 424.93h8.4M220.41 420.73v8.4M217.67 421.18h8.4M221.87 416.98v8.4M219.13 417.44h8.4M223.33 413.24v8.4M220.59 413.69h8.4M224.79 409.49v8.4M222.06 409.96h8.4M226.26 405.76v8.4M223.52 406.23h8.4M227.72 402.03v8.4M224.98 402.50h8.4M229.18 398.30v8.4M226.44 398.78h8.4M230.64 394.58v8.4M227.90 395.06h8.4M232.10 390.86v8.4M229.36 391.35h8.4M233.56 387.15v8.4M230.82 387.65h8.4M235.02 383.45v8.4M232.28 383.96h8.4M236.48 379.76v8.4M233.74 380.27h8.4M237.94 376.07v8.4M235.20 376.59h8.4M239.40 372.39v8.4M236.66 372.93h8.4M240.86 368.73v8.4M238.12 369.27h8.4M242.32 365.07v8.4M239.58 365.62h8.4M243.78 361.42v8.4M241.05 361.99h8.4M245.25 357.79v8.4M242.51 358.36h8.4M246.71 354.16v8.4M243.97 354.75h8.4M248.17 350.55v8.4M245.43 351.15h8.4M249.63 346.95v8.4M246.89 347.57h8.4M251.09 343.37v8.4M248.35 343.99h8.4M252.55 339.79v8.4M249.81 340.44h8.4M254.01 336.24v8.4M251.27 336.89h8.4M255.47 332.69v8.4M252.73 333.36h8.4M256.93 329.16v8.4M254.19 329.85h8.4M258.39 325.65v8.4M255.65 326.35h8.4M259.85 322.15v8.4M257.11 322.88h8.4M261.31 318.68v8.4M258.57 319.41h8.4M262.77 315.21v8.4M260.04 315.97h8.4M264.24 311.77v8.4M261.50 312.54h8.4M265.70 308.34v8.4M262.96 309.13h8.4M267.16 304.93v8.4M264.42 305.74h8.4M268.62 301.54v8.4M265.88 302.37h8.4M270.08 298.17v8.4M267.34 299.02h8.4M271.54 294.82v8.4M268.80 295.69h8.4M273.00 291.49v8.4M270.26 292.38h8.4M274.46 288.18v8.4M271.72 289.09h8.4M275.92 284.89v8.4M273.18 285.82h8.4M277.38 281.62v8.4M274.64 282.58h8.4M278.84 278.38v8.4M276.10 279.35h8.4M280.30 275.15v8.4M277.56 276.15h8.4M281.76 271.95v8.4M279.02 272.97h8.4M283.22 268.77v8.4M280.49 269.81h8.4M284.69 265.61v8.4M281.95 266.68h8.4M286.15 262.48v8.4M283.41 263.57h8.4M287.61 259.37v8.4M284.87 260.48h8.4M289.07 256.28v8.4M286.33 257.42h8.4M290.53 253.22v8.4M287.79 254.39h8.4M291.99 250.19v8.4M289.25 251.37h8.4M293.45 247.17v8.4M290.71 248.39h8.4M294.91 244.19v8.4M292.17 245.43h8.4M296.37 241.23v8.4M293.63 242.49h8.4M297.83 238.29v8.4M295.09 239.58h8.4M299.29 235.38v8.4M296.55 236.70h8.4M300.75 232.50v8.4M298.01 233.84h8.4M302.21 229.64v8.4M299.48 231.01h8.4M303.68 226.81v8.4M300.94 228.20h8.4M305.14 224.00v8.4M302.40 225.42h8.4M306.60 221.22v8.4M303.86 222.67h8.4M308.06 218.47v8.4M305.32 219.95h8.4M309.52 215.75v8.4M306.78 217.25h8.4M310.98 213.05v8.4M308.24 214.58h8.4M312.44 210.38v8.4M309.70 211.94h8.4M313.90 207.74v8.4M311.16 209.33h8.4M315.36 205.13v8.4M312.62 206.74h8.4M316.82 202.54v8.4M314.08 204.18h8.4M318.28 199.98v8.4M315.54 201.65h8.4M319.74 197.45v8.4M317.00 199.15h8.4M321.20 194.95v8.4M318.47 196.68h8.4M322.67 192.48v8.4M319.93 194.23h8.4M324.13 190.03v8.4M321.39 191.82h8.4M325.59 187.62v8.4M322.85 189.43h8.4M327.05 185.23v8.4M324.31 187.07h8.4M328.51 182.87v8.4M325.77 184.74h8.4M329.97 180.54v8.4M327.23 182.43h8.4M331.43 178.23v8.4M328.69 180.16h8.4M332.89 175.96v8.4M330.15 177.91h8.4M334.35 173.71v8.4M331.61 175.69h8.4M335.81 171.49v8.4M333.07 173.50h8.4M337.27 169.30v8.4M334.53 171.34h8.4M338.73 167.14v8.4M335.99 169.21h8.4M340.19 165.01v8.4M337.45 167.10h8.4M341.65 162.90v8.4M338.92 165.03h8.4M343.12 160.83v8.4M340.38 162.98h8.4M344.58 158.78v8.4M341.84 160.96h8.4M346.04 156.76v8.4M343.30 158.96h8.4M347.50 154.76v8.4M344.76 157.00h8.4M348.96 152.80v8.4M346.22 155.06h8.4M350.42 150.86v8.4M347.68 153.16h8.4M351.88 148.96v8.4M349.14 151.28h8.4M353.34 147.08v8.4M350.60 149.42h8.4M354.80 145.22v8.4M352.06 147.60h8.4M356.26 143.40v8.4M353.52 145.80h8.4M357.72 141.60v8.4M354.98 144.03h8.4M359.18 139.83v8.4M356.44 142.28h8.4M360.64 138.08v8.4M357.91 140.56h8.4M362.11 136.36v8.4M359.37 138.87h8.4M363.57 134.67v8.4M360.83 137.21h8.4M365.03 133.01v8.4M362.29 135.57h8.4M366.49 131.37v8.4M363.75 133.96h8.4M367.95 129.76v8.4M365.21 132.38h8.4M369.41 128.18v8.4M366.67 130.82h8.4M370.87 126.62v8.4M368.13 129.28h8.4M372.33 125.08v8.4M369.59 127.77h8.4M373.79 123.57v8.4M371.05 126.29h8.4M375.25 122.09v8.4M372.51 124.83h8.4M376.71 120.63v8.4M373.97 123.40h8.4M378.17 119.20v8.4M375.43 121.99h8.4M379.63 117.79v8.4M376.90 120.61h8.4M381.10 116.41v8.4M378.36 119.25h8.4M382.56 115.05v8.4M379.82 117.92h8.4M384.02 113.72v8.4M381.28 116.61h8.4M385.48 112.41v8.4M382.74 115.32h8.4M386.94 111.12v8.4M384.20 114.05h8.4M388.40 109.85v8.4M385.66 112.81h8.4M389.86 108.61v8.4M387.12 111.60h8.4M391.32 107.40v8.4M388.58 110.40h8.4M392.78 106.20v8.4M390.04 109.23h8.4M394.24 105.03v8.4M391.50 108.08h8.4M395.70 103.88v8.4M392.96 106.95h8.4M397.16 102.75v8.4M394.42 105.84h8.4M398.62 101.64v8.4M395.88 104.76h8.4M400.08 100.56v8.4M397.35 103.69h8.4M401.55 99.49v8.4M398.81 102.65h8.4M403.01 98.45v8.4M400.27 101.63h8.4M404.47 97.43v8.4M401.73 100.63h8.4M405.93 96.43v8.4M403.19 99.65h8.4M407.39 95.45v8.4M404.65 98.68h8.4M408.85 94.48v8.4M406.11 97.74h8.4M410.31 93.54v8.4M407.57 96.82h8.4M411.77 92.62v8.4M409.03 95.92h8.4M413.23 91.72v8.4M410.49 95.03h8.4M414.69 90.83v8.4M411.95 94.17h8.4M416.15 89.97v8.4M413.41 93.32h8.4M417.61 89.12v8.4M414.87 92.49h8.4M419.07 88.29v8.4M416.34 91.68h8.4M420.54 87.48v8.4M417.80 90.89h8.4M422.00 86.69v8.4M419.26 90.11h8.4M423.46 85.91v8.4M420.72 89.35h8.4M424.92 85.15v8.4M422.18 88.61h8.4M426.38 84.41v8.4M423.64 87.88h8.4M427.84 83.68v8.4M425.10 87.17h8.4M429.30 82.97v8.4M426.56 86.48h8.4M430.76 82.28v8.4M428.02 85.80h8.4M432.22 81.60v8.4M429.48 85.14h8.4M433.68 80.94v8.4M430.94 84.49h8.4M435.14 80.29v8.4M432.40 83.86h8.4M436.60 79.66v8.4M433.86 83.24h8.4M438.06 79.04v8.4M435.33 82.64h8.4M439.53 78.44v8.4M436.79 82.05h8.4M440.99 77.85v8.4M438.25 81.48h8.4M442.45 77.28v8.4M439.71 80.92h8.4M443.91 76.72v8.4M441.17 80.37h8.4M445.37 76.17v8.4M442.63 79.84h8.4M446.83 75.64v8.4M444.09 79.32h8.4M448.29 75.12v8.4M445.55 78.81h8.4M449.75 74.61v8.4M447.01 78.32h8.4M451.21 74.12v8.4M448.47 77.83h8.4M452.67 73.63v8.4M449.93 77.36h8.4M454.13 73.16v8.4M451.39 76.90h8.4M455.59 72.70v8.4M452.85 76.46h8.4M457.05 72.26v8.4M454.31 76.02h8.4M458.51 71.82v8.4M455.78 75.60h8.4M459.98 71.40v8.4M457.24 75.18h8.4M461.44 70.98v8.4M458.70 74.78h8.4M462.90 70.58v8.4M460.16 74.39h8.4M464.36 70.19v8.4M461.62 74.01h8.4M465.82 69.81v8.4M463.08 73.63h8.4M467.28 69.43v8.4M464.54 73.27h8.4M468.74 69.07v8.4M466.00 72.92h8.4M470.20 68.72v8.4M467.46 72.58h8.4M471.66 68.38v8.4M468.92 72.24h8.4M473.12 68.04v8.4M470.38 71.92h8.4M474.58 67.72v8.4M471.84 71.60h8.4M476.04 67.40v8.4M473.30 71.30h8.4M477.50 67.10v8.4M474.77 71.00h8.4M478.97 66.80v8.4M476.23 70.71h8.4M480.43 66.51v8.4M477.69 70.42h8.4M481.89 66.22v8.4M479.15 70.15h8.4M483.35 65.95v8.4M480.61 69.88h8.4M484.81 65.68v8.4M482.07 69.63h8.4M486.27 65.43v8.4M483.53 69.37h8.4M487.73 65.17v8.4M484.99 69.13h8.4M489.19 64.93v8.4M486.45 68.89h8.4M490.65 64.69v8.4M487.91 68.66h8.4M492.11 64.46v8.4M489.37 68.44h8.4M493.57 64.24v8.4M490.83 68.22h8.4M495.03 64.02v8.4M492.29 68.01h8.4M496.49 63.81v8.4M493.76 67.81h8.4M497.96 63.61v8.4M495.22 67.61h8.4M499.42 63.41v8.4M496.68 67.42h8.4M500.88 63.22v8.4M498.14 67.23h8.4M502.34 63.03v8.4M499.60 67.05h8.4M503.80 62.85v8.4M501.06 66.87h8.4M505.26 62.67v8.4M502.52 66.70h8.4M506.72 62.50v8.4M503.98 66.54h8.4M508.18 62.34v8.4M505.44 66.38h8.4M509.64 62.18v8.4M506.90 66.22h8.4M511.10 62.02v8.4M508.36 66.07h8.4M512.56 61.87v8.4M509.82 65.93h8.4M514.02 61.73v8.4M511.28 65.79h8.4M515.48 61.59v8.4M512.74 65.65h8.4M516.94 61.45v8.4M514.21 65.52h8.4M518.41 61.32v8.4M515.67 65.39h8.4M519.87 61.19v8.4M517.13 65.27h8.4M521.33 61.07v8.4M518.59 65.15h8.4M522.79 60.95v8.4M520.05 65.03h8.4M524.25 60.83v8.4M521.51 64.92h8.4M525.71 60.72v8.4M522.97 64.81h8.4M527.17 60.61v8.4M524.43 64.71h8.4M528.63 60.51v8.4M525.89 64.61h8.4M530.09 60.41v8.4M527.35 64.51h8.4M531.55 60.31v8.4M528.81 64.41h8.4M533.01 60.21v8.4M530.27 64.32h8.4M534.47 60.12v8.4M531.73 64.23h8.4M535.93 60.03v8.4M533.20 64.15h8.4M537.40 59.95v8.4M534.66 64.07h8.4M538.86 59.87v8.4M536.12 63.99h8.4M540.32 59.79v8.4M537.58 63.91h8.4M541.78 59.71v8.4M539.04 63.84h8.4M543.24 59.64v8.4M540.50 63.76h8.4M544.70 59.56v8.4M541.96 63.69h8.4M546.16 59.49v8.4M543.42 63.63h8.4M547.62 59.43v8.4M544.88 63.56h8.4M549.08 59.36v8.4M546.34 63.50h8.4M550.54 59.30v8.4M547.80 63.44h8.4M552.00 59.24v8.4M549.26 63.38h8.4M553.46 59.18v8.4M550.72 63.33h8.4M554.92 59.13v8.4M552.19 63.27h8.4M556.39 59.07v8.4M553.65 63.22h8.4M557.85 59.02v8.4M555.11 63.17h8.4M559.31 58.97v8.4M556.57 63.12h8.4M560.77 58.92v8.4M558.03 63.07h8.4M562.23 58.87v8.4M559.49 63.03h8.4M563.69 58.83v8.4M560.95 62.99h8.4M565.15 58.79v8.4M562.41 62.94h8.4M566.61 58.74v8.4M563.87 62.90h8.4M568.07 58.70v8.4M565.33 62.87h8.4M569.53 58.67v8.4M566.79 62.83h8.4M570.99 58.63v8.4M568.25 62.79h8.4M572.45 58.59v8.4M569.71 62.76h8.4M573.91 58.56v8.4M571.17 62.73h8.4M575.37 58.53v8.4M572.64 62.69h8.4M576.84 58.49v8.4M574.10 62.66h8.4M578.30 58.46v8.4M575.56 62.63h8.4M579.76 58.43v8.4M577.02 62.60h8.4M581.22 58.40v8.4M578.48 62.58h8.4M582.68 58.38v8.4M579.94 62.55h8.4M584.14 58.35v8.4M581.40 62.53h8.4M585.60 58.33v8.4M582.86 62.50h8.4M587.06 58.30v8.4M584.32 62.48h8.4M588.52 58.28v8.4M585.78 62.46h8.4M589.98 58.26v8.4M587.24 62.43h8.4M591.44 58.23v8.4M588.70 62.41h8.4M592.90 58.21v8.4M590.16 62.39h8.4M594.36 58.19v8.4M591.63 62.37h8.4M595.83 58.17v8.4M593.09 62.36h8.4M597.29 58.16v8.4M594.55 62.34h8.4M598.75 58.14v8.4M596.01 62.32h8.4M600.21 58.12v8.4M597.47 62.31h8.4M601.67 58.11v8.4M598.93 62.29h8.4M603.13 58.09v8.4M600.39 62.28h8.4M604.59 58.08v8.4M601.85 62.26h8.4M606.05 58.06v8.4M603.31 62.25h8.4M607.51 58.05v8.4M604.77 62.23h8.4M608.97 58.03v8.4M606.23 62.22h8.4M610.43 58.02v8.4M607.69 62.21h8.4M611.89 58.01v8.4M609.15 62.20h8.4M613.35 58.00v8.4M610.62 62.19h8.4M614.82 57.99v8.4M612.08 62.18h8.4M616.28 57.98v8.4M613.54 62.17h8.4M617.74 57.97v8.4M615.00 62.16h8.4M619.20 57.96v8.4M616.46 62.15h8.4M620.66 57.95v8.4M617.92 62.14h8.4M622.12 57.94v8.4M619.38 62.13h8.4M623.58 57.93v8.4M620.84 62.12h8.4M625.04 57.92v8.4M622.30 62.11h8.4M626.50 57.91v8.4M623.76 62.11h8.4M627.96 57.91v8.4M625.22 62.10h8.4M629.42 57.90v8.4M626.68 62.09h8.4M630.88 57.89v8.4M628.14 62.08h8.4M632.34 57.88v8.4M629.60 62.08h8.4M633.80 57.88v8.4M631.07 62.07h8.4M635.27 57.87v8.4M632.53 62.07h8.4M636.73 57.87v8.4M633.99 62.06h8.4M638.19 57.86v8.4M635.45 62.06h8.4M639.65 57.86v8.4M636.91 62.05h8.4M641.11 57.85v8.4M638.37 62.05h8.4M642.57 57.85v8.4M639.83 62.04h8.4M644.03 57.84v8.4M641.29 62.04h8.4M645.49 57.84v8.4M642.75 62.03h8.4M646.95 57.83v8.4M644.21 62.03h8.4M648.41 57.83v8.4M645.67 62.03h8.4M649.87 57.83v8.4M647.13 62.02h8.4M651.33 57.82v8.4M648.59 62.02h8.4M652.79 57.82v8.4M650.06 62.01h8.4M654.26 57.81v8.4M651.52 62.01h8.4M655.72 57.81v8.4M652.98 62.01h8.4M657.18 57.81v8.4M654.44 62.01h8.4M658.64 57.81v8.4M655.90 62.00h8.4M660.10 57.80v8.4M657.36 62.00h8.4M661.56 57.80v8.4M658.82 62.00h8.4M663.02 57.80v8.4M660.28 62.00h8.4M664.48 57.80v8.4M661.74 61.99h8.4M665.94 57.79v8.4M663.20 61.99h8.4M667.40 57.79v8.4M664.66 61.99h8.4M668.86 57.79v8.4M666.12 61.99h8.4M670.32 57.79v8.4M667.58 61.99h8.4M671.78 57.79v8.4M669.05 61.98h8.4M673.25 57.78v8.4M670.51 61.98h8.4M674.71 57.78v8.4M671.97 61.98h8.4M676.17 57.78v8.4M673.43 61.98h8.4M677.63 57.78v8.4M674.89 61.98h8.4M679.09 57.78v8.4M676.35 61.98h8.4M680.55 57.78v8.4M677.81 61.97h8.4M682.01 57.77v8.4M679.27 61.97h8.4M683.47 57.77v8.4M680.73 61.97h8.4M684.93 57.77v8.4M682.19 61.97h8.4M686.39 57.77v8.4M683.65 61.97h8.4M687.85 57.77v8.4M685.11 61.97h8.4M689.31 57.77v8.4M686.57 61.97h8.4M690.77 57.77v8.4M688.03 61.97h8.4M692.23 57.77v8.4M689.50 61.97h8.4M693.70 57.77v8.4M690.96 61.97h8.4M695.16 57.77v8.4M692.42 61.96h8.4M696.62 57.76v8.4M693.88 61.96h8.4M698.08 57.76v8.4M695.34 61.96h8.4M699.54 57.76v8.4M696.80 61.96h8.4M701.00 57.76v8.4M698.26 61.96h8.4M702.46 57.76v8.4M699.72 61.96h8.4M703.92 57.76v8.4M701.18 61.96h8.4M705.38 57.76v8.4M702.64 61.96h8.4M706.84 57.76v8.4M704.10 61.96h8.4M708.30 57.76v8.4M705.56 61.96h8.4M709.76 57.76v8.4M707.02 61.96h8.4M711.22 57.76v8.4M708.49 61.96h8.4M712.69 57.76v8.4M709.95 61.96h8.4M714.15 57.76v8.4M711.41 61.96h8.4M715.61 57.76v8.4M712.87 61.96h8.4M717.07 57.76v8.4M714.33 61.96h8.4M718.53 57.76v8.4M715.79 61.96h8.4M719.99 57.76v8.4M717.25 61.96h8.4M721.45 57.76v8.4M718.71 61.96h8.4M722.91 57.76v8.4M720.17 61.95h8.4M724.37 57.75v8.4M721.63 61.95h8.4M725.83 57.75v8.4M723.09 61.95h8.4M727.29 57.75v8.4M724.55 61.95h8.4M728.75 57.75v8.4M726.01 61.95h8.4M730.21 57.75v8.4M727.48 61.95h8.4M731.68 57.75v8.4M728.94 61.95h8.4M733.14 57.75v8.4M730.40 61.95h8.4M734.60 57.75v8.4M731.86 61.95h8.4M736.06 57.75v8.4M733.32 61.95h8.4M737.52 57.75v8.4M734.78 61.95h8.4M738.98 57.75v8.4M736.24 61.95h8.4M740.44 57.75v8.4M737.70 61.95h8.4M741.90 57.75v8.4M739.16 61.95h8.4M743.36 57.75v8.4M740.62 61.95h8.4M744.82 57.75v8.4M742.08 61.95h8.4M746.28 57.75v8.4M743.54 61.95h8.4M747.74 57.75v8.4M745.00 61.95h8.4M749.20 57.75v8.4M746.46 61.95h8.4M750.66 57.75v8.4M747.93 61.95h8.4M752.13 57.75v8.4M749.39 61.95h8.4M753.59 57.75v8.4M750.85 61.95h8.4M755.05 57.75v8.4M752.31 61.95h8.4M756.51 57.75v8.4M753.77 61.95h8.4M757.97 57.75v8.4M755.23 61.95h8.4M759.43 57.75v8.4M756.69 61.95h8.4M760.89 57.75v8.4M758.15 61.95h8.4M762.35 57.75v8.4M759.61 61.95h8.4M763.81 57.75v8.4M761.07 61.95h8.4M765.27 57.75v8.4M762.53 61.95h8.4M766.73 57.75v8.4M763.99 61.95h8.4M768.19 57.75v8.4" stroke="#0000ff" stroke-width="0.8" fill="none"/>
<path d="M211.83 436.72h8.4M216.03 432.52v8.4M213.29 434.07h8.4M217.49 429.87v8.4M214.75 431.42h8.4M218.95 427.22v8.4M216.21 428.77h8.4M220.41 424.57v8.4M217.67 426.12h8.4M221.87 421.92v8.4M219.13 423.47h8.4M223.33 419.27v8.4M220.59 420.82h8.4M224.79 416.62v8.4M222.06 418.17h8.4M226.26 413.97v8.4M223.52 415.53h8.4M227.72 411.33v8.4M224.98 412.88h8.4M229.18 408.68v8.4M226.44 410.24h8.4M230.64 406.04v8.4M227.90 407.60h8.4M232.10 403.40v8.4M229.36 404.96h8.4M233.56 400.76v8.4M230.82 402.33h8.4M235.02 398.13v8.4M232.28 399.70h8.4M236.48 395.50v8.4M233.74 397.07h8.4M237.94 392.87v8.4M235.20 394.44h8.4M239.40 390.24v8.4M236.66 391.82h8.4M240.86 387.62v8.4M238.12 389.20h8.4M242.32 385.00v8.4M239.58 386.58h8.4M243.78 382.38v8.4M241.05 383.97h8.4M245.25 379.77v8.4M242.51 381.36h8.4M246.71 377.16v8.4M243.97 378.76h8.4M248.17 374.56v8.4M245.43 376.16h8.4M249.63 371.96v8.4M246.89 373.57h8.4M251.09 369.37v8.4M248.35 370.98h8.4M252.55 366.78v8.4M249.81 368.40h8.4M254.01 364.20v8.4M251.27 365.82h8.4M255.47 361.62v8.4M252.73 363.25h8.4M256.93 359.05v8.4M254.19 360.68h8.4M258.39 356.48v8.4M255.65 358.12h8.4M259.85 353.92v8.4M257.11 355.57h8.4M261.31 351.37v8.4M258.57 353.02h8.4M262.77 348.82v8.4M260.04 350.48h8.4M264.24 346.28v8.4M261.50 347.94h8.4M265.70 343.74v8.4M262.96 345.41h8.4M267.16 341.21v8.4M264.42 342.89h8.4M268.62 338.69v8.4M265.88 340.38h8.4M270.08 336.18v8.4M267.34 337.87h8.4M271.54 333.67v8.4M268.80 335.37h8.4M273.00 331.17v8.4M270.26 332.88h8.4M274.46 328.68v8.4M271.72 330.39h8.4M275.92 326.19v8.4M273.18 327.92h8.4M277.38 323.72v8.4M274.64 325.45h8.4M278.84 321.25v8.4M276.10 322.99h8.4M280.30 318.79v8.4M277.56 320.54h8.4M281.76 316.34v8.4M279.02 318.10h8.4M283.22 313.90v8.4M280.49 315.67h8.4M284.69 311.47v8.4M281.95 313.24h8.4M286.15 309.04v8.4M283.41 310.83h8.4M287.61 306.63v8.4M284.87 308.42h8.4M289.07 304.22v8.4M286.33 306.03h8.4M290.53 301.83v8.4M287.79 303.64h8.4M291.99 299.44v8.4M289.25 301.26h8.4M293.45 297.06v8.4M290.71 298.90h8.4M294.91 294.70v8.4M292.17 296.54h8.4M296.37 292.34v8.4M293.63 294.19h8.4M297.83 289.99v8.4M295.09 291.86h8.4M299.29 287.66v8.4M296.55 289.53h8.4M300.75 285.33v8.4M298.01 287.22h8.4M302.21 283.02v8.4M299.48 284.91h8.4M303.68 280.71v8.4M300.94 282.62h8.4M305.14 278.42v8.4M302.40 280.33h8.4M306.60 276.13v8.4M303.86 278.06h8.4M308.06 273.86v8.4M305.32 275.80h8.4M309.52 271.60v8.4M306.78 273.55h8.4M310.98 269.35v8.4M308.24 271.32h8.4M312.44 267.12v8.4M309.70 269.09h8.4M313.90 264.89v8.4M311.16 266.88h8.4M315.36 262.68v8.4M312.62 264.67h8.4M316.82 260.47v8.4M314.08 262.48h8.4M318.28 258.28v8.4M315.54 260.31h8.4M319.74 256.11v8.4M317.00 258.14h8.4M321.20 253.94v8.4M318.47 255.99h8.4M322.67 251.79v8.4M319.93 253.84h8.4M324.13 249.64v8.4M321.39 251.72h8.4M325.59 247.52v8.4M322.85 249.60h8.4M327.05 245.40v8.4M324.31 247.49h8.4M328.51 243.29v8.4M325.77 245.40h8.4M329.97 241.20v8.4M327.23 243.32h8.4M331.43 239.12v8.4M328.69 241.26h8.4M332.89 237.06v8.4M330.15 239.21h8.4M334.35 235.01v8.4M331.61 237.17h8.4M335.81 232.97v8.4M333.07 235.14h8.4M337.27 230.94v8.4M334.53 233.13h8.4M338.73 228.93v8.4M335.99 231.13h8.4M340.19 226.93v8.4M337.45 229.14h8.4M341.65 224.94v8.4M338.92 227.17h8.4M343.12 222.97v8.4M340.38 225.21h8.4M344.58 221.01v8.4M341.84 223.26h8.4M346.04 219.06v8.4M343.30 221.33h8.4M347.50 217.13v8.4M344.76 219.41h8.4M348.96 215.21v8.4M346.22 217.50h8.4M350.42 213.30v8.4M347.68 215.61h8.4M351.88 211.41v8.4M349.14 213.73h8.4M353.34 209.53v8.4M350.60 211.87h8.4M354.80 207.67v8.4M352.06 210.02h8.4M356.26 205.82v8.4M353.52 208.18h8.4M357.72 203.98v8.4M354.98 206.36h8.4M359.18 202.16v8.4M356.44 204.55h8.4M360.64 200.35v8.4M357.91 202.75h8.4M362.11 198.55v8.4M359.37 200.97h8.4M363.57 196.77v8.4M360.83 199.21h8.4M365.03 195.01v8.4M362.29 197.45h8.4M366.49 193.25v8.4M363.75 195.72h8.4M367.95 191.52v8.4M365.21 193.99h8.4M369.41 189.79v8.4M366.67 192.28h8.4M370.87 188.08v8.4M368.13 190.59h8.4M372.33 186.39v8.4M369.59 188.90h8.4M373.79 184.70v8.4M371.05 187.24h8.4M375.25 183.04v8.4M372.51 185.58h8.4M376.71 181.38v8.4M373.97 183.94h8.4M378.17 179.74v8.4M375.43 182.32h8.4M379.63 178.12v8.4M376.90 180.71h8.4M381.10 176.51v8.4M378.36 179.11h8.4M382.56 174.91v8.4M379.82 177.53h8.4M384.02 173.33v8.4M381.28 175.96h8.4M385.48 171.76v8.4M382.74 174.41h8.4M386.94 170.21v8.4M384.20 172.87h8.4M388.40 168.67v8.4M385.66 171.34h8.4M389.86 167.14v8.4M387.12 169.83h8.4M391.32 165.63v8.4M388.58 168.33h8.4M392.78 164.13v8.4M390.04 166.85h8.4M394.24 162.65v8.4M391.50 165.38h8.4M395.70 161.18v8.4M392.96 163.93h8.4M397.16 159.73v8.4M394.42 162.49h8.4M398.62 158.29v8.4M395.88 161.06h8.4M400.08 156.86v8.4M397.35 159.65h8.4M401.55 155.45v8.4M398.81 158.25h8.4M403.01 154.05v8.4M400.27 156.86h8.4M404.47 152.66v8.4M401.73 155.49h8.4M405.93 151.29v8.4M403.19 154.14h8.4M407.39 149.94v8.4M404.65 152.79h8.4M408.85 148.59v8.4M406.11 151.46h8.4M410.31 147.26v8.4M407.57 150.15h8.4M411.77 145.95v8.4M409.03 148.85h8.4M413.23 144.65v8.4M410.49 147.56h8.4M414.69 143.36v8.4M411.95 146.29h8.4M416.15 142.09v8.4M413.41 145.02h8.4M417.61 140.82v8.4M414.87 143.78h8.4M419.07 139.58v8.4M416.34 142.54h8.4M420.54 138.34v8.4M417.80 141.32h8.4M422.00 137.12v8.4M419.26 140.12h8.4M423.46 135.92v8.4M420.72 138.92h8.4M424.92 134.72v8.4M422.18 137.74h8.4M426.38 133.54v8.4M423.64 136.58h8.4M427.84 132.38v8.4M425.10 135.42h8.4M429.30 131.22v8.4M426.56 134.28h8.4M430.76 130.08v8.4M428.02 133.16h8.4M432.22 128.96v8.4M429.48 132.04h8.4M433.68 127.84v8.4M430.94 130.94h8.4M435.14 126.74v8.4M432.40 129.85h8.4M436.60 125.65v8.4M433.86 128.78h8.4M438.06 124.58v8.4M435.33 127.71h8.4M439.53 123.51v8.4M436.79 126.66h8.4M440.99 122.46v8.4M438.25 125.63h8.4M442.45 121.43v8.4M439.71 124.60h8.4M443.91 120.40v8.4M441.17 123.59h8.4M445.37 119.39v8.4M442.63 122.59h8.4M446.83 118.39v8.4M444.09 121.60h8.4M448.29 117.40v8.4M445.55 120.62h8.4M449.75 116.42v8.4M447.01 119.66h8.4M451.21 115.46v8.4M448.47 118.71h8.4M452.67 114.51v8.4M449.93 117.77h8.4M454.13 113.57v8.4M451.39 116.84h8.4M455.59 112.64v8.4M452.85 115.93h8.4M457.05 111.73v8.4M454.31 115.02h8.4M458.51 110.82v8.4M455.78 114.13h8.4M459.98 109.93v8.4M457.24 113.25h8.4M461.44 109.05v8.4M458.70 112.38h8.4M462.90 108.18v8.4M460.16 111.52h8.4M464.36 107.32v8.4M461.62 110.68h8.4M465.82 106.48v8.4M463.08 109.84h8.4M467.28 105.64v8.4M464.54 109.02h8.4M468.74 104.82v8.4M466.00 108.20h8.4M470.20 104.00v8.4M467.46 107.40h8.4M471.66 103.20v8.4M468.92 106.61h8.4M473.12 102.41v8.4M470.38 105.83h8.4M474.58 101.63v8.4M471.84 105.06h8.4M476.04 100.86v8.4M473.30 104.30h8.4M477.50 100.10v8.4M474.77 103.55h8.4M478.97 99.35v8.4M476.23 102.82h8.4M480.43 98.62v8.4M477.69 102.09h8.4M481.89 97.89v8.4M479.15 101.37h8.4M483.35 97.17v8.4M480.61 100.67h8.4M484.81 96.47v8.4M482.07 99.97h8.4M486.27 95.77v8.4M483.53 99.28h8.4M487.73 95.08v8.4M484.99 98.61h8.4M489.19 94.41v8.4M486.45 97.94h8.4M490.65 93.74v8.4M487.91 97.28h8.4M492.11 93.08v8.4M489.37 96.63h8.4M493.57 92.43v8.4M490.83 96.00h8.4M495.03 91.80v8.4M492.29 95.37h8.4M496.49 91.17v8.4M493.76 94.75h8.4M497.96 90.55v8.4M495.22 94.14h8.4M499.42 89.94v8.4M496.68 93.54h8.4M500.88 89.34v8.4M498.14 92.95h8.4M502.34 88.75v8.4M499.60 92.36h8.4M503.80 88.16v8.4M501.06 91.79h8.4M505.26 87.59v8.4M502.52 91.23h8.4M506.72 87.03v8.4M503.98 90.67h8.4M508.18 86.47v8.4M505.44 90.12h8.4M509.64 85.92v8.4M506.90 89.58h8.4M511.10 85.38v8.4M508.36 89.05h8.4M512.56 84.85v8.4M509.82 88.53h8.4M514.02 84.33v8.4M511.28 88.02h8.4M515.48 83.82v8.4M512.74 87.51h8.4M516.94 83.31v8.4M514.21 87.02h8.4M518.41 82.82v8.4M515.67 86.53h8.4M519.87 82.33v8.4M517.13 86.04h8.4M521.33 81.84v8.4M518.59 85.57h8.4M522.79 81.37v8.4M520.05 85.10h8.4M524.25 80.90v8.4M521.51 84.65h8.4M525.71 80.45v8.4M522.97 84.20h8.4M527.17 80.00v8.4M524.43 83.75h8.4M528.63 79.55v8.4M525.89 83.32h8.4M530.09 79.12v8.4M527.35 82.89h8.4M531.55 78.69v8.4M528.81 82.47h8.4M533.01 78.27v8.4M530.27 82.05h8.4M534.47 77.85v8.4M531.73 81.64h8.4M535.93 77.44v8.4M533.20 81.24h8.4M537.40 77.04v8.4M534.66 80.85h8.4M538.86 76.65v8.4M536.12 80.46h8.4M540.32 76.26v8.4M537.58 80.08h8.4M541.78 75.88v8.4M539.04 79.71h8.4M543.24 75.51v8.4M540.50 79.34h8.4M544.70 75.14v8.4M541.96 78.98h8.4M546.16 74.78v8.4M543.42 78.63h8.4M547.62 74.43v8.4M544.88 78.28h8.4M549.08 74.08v8.4M546.34 77.94h8.4M550.54 73.74v8.4M547.80 77.60h8.4M552.00 73.40v8.4M549.26 77.27h8.4M553.46 73.07v8.4M550.72 76.95h8.4M554.92 72.75v8.4M552.19 76.63h8.4M556.39 72.43v8.4M553.65 76.32h8.4M557.85 72.12v8.4M555.11 76.01h8.4M559.31 71.81v8.4M556.57 75.71h8.4M560.77 71.51v8.4M558.03 75.41h8.4M562.23 71.21v8.4M559.49 75.12h8.4M563.69 70.92v8.4M560.95 74.84h8.4M565.15 70.64v8.4M562.41 74.56h8.4M566.61 70.36v8.4M563.87 74.28h8.4M568.07 70.08v8.4M565.33 74.02h8.4M569.53 69.82v8.4M566.79 73.75h8.4M570.99 69.55v8.4M568.25 73.49h8.4M572.45 69.29v8.4M569.71 73.24h8.4M573.91 69.04v8.4M571.17 72.99h8.4M575.37 68.79v8.4M572.64 72.74h8.4M576.84 68.54v8.4M574.10 72.50h8.4M578.30 68.30v8.4M575.56 72.27h8.4M579.76 68.07v8.4M577.02 72.04h8.4M581.22 67.84v8.4M578.48 71.81h8.4M582.68 67.61v8.4M579.94 71.59h8.4M584.14 67.39v8.4M581.40 71.37h8.4M585.60 67.17v8.4M582.86 71.16h8.4M587.06 66.96v8.4M584.32 70.95h8.4M588.52 66.75v8.4M585.78 70.74h8.4M589.98 66.54v8.4M587.24 70.54h8.4M591.44 66.34v8.4M588.70 70.35h8.4M592.90 66.15v8.4M590.16 70.15h8.4M594.36 65.95v8.4M591.63 69.96h8.4M595.83 65.76v8.4M593.09 69.78h8.4M597.29 65.58v8.4M594.55 69.60h8.4M598.75 65.40v8.4M596.01 69.42h8.4M600.21 65.22v8.4M597.47 69.24h8.4M601.67 65.04v8.4M598.93 69.07h8.4M603.13 64.87v8.4M600.39 68.91h8.4M604.59 64.71v8.4M601.85 68.74h8.4M606.05 64.54v8.4M603.31 68.58h8.4M607.51 64.38v8.4M604.77 68.42h8.4M608.97 64.22v8.4M606.23 68.27h8.4M610.43 64.07v8.4M607.69 68.12h8.4M611.89 63.92v8.4M609.15 67.97h8.4M613.35 63.77v8.4M610.62 67.83h8.4M614.82 63.63v8.4M612.08 67.69h8.4M616.28 63.49v8.4M613.54 67.55h8.4M617.74 63.35v8.4M615.00 67.41h8.4M619.20 63.21v8.4M616.46 67.28h8.4M620.66 63.08v8.4M617.92 67.15h8.4M622.12 62.95v8.4M619.38 67.03h8.4M623.58 62.83v8.4M620.84 66.90h8.4M625.04 62.70v8.4M622.30 66.78h8.4M626.50 62.58v8.4M623.76 66.66h8.4M627.96 62.46v8.4M625.22 66.54h8.4M629.42 62.34v8.4M626.68 66.43h8.4M630.88 62.23v8.4M628.14 66.32h8.4M632.34 62.12v8.4M629.60 66.21h8.4M633.80 62.01v8.4M631.07 66.11h8.4M635.27 61.91v8.4M632.53 66.00h8.4M636.73 61.80v8.4M633.99 65.90h8.4M638.19 61.70v8.4M635.45 65.80h8.4M639.65 61.60v8.4M636.91 65.70h8.4M641.11 61.50v8.4M638.37 65.61h8.4M642.57 61.41v8.4M639.83 65.52h8.4M644.03 61.32v8.4M641.29 65.43h8.4M645.49 61.23v8.4M642.75 65.34h8.4M646.95 61.14v8.4M644.21 65.25h8.4M648.41 61.05v8.4M645.67 65.17h8.4M649.87 60.97v8.4M647.13 65.08h8.4M651.33 60.88v8.4M648.59 65.00h8.4M652.79 60.80v8.4M650.06 64.92h8.4M654.26 60.72v8.4M651.52 64.85h8.4M655.72 60.65v8.4M652.98 64.77h8.4M657.18 60.57v8.4M654.44 64.70h8.4M658.64 60.50v8.4M655.90 64.63h8.4M660.10 60.43v8.4M657.36 64.56h8.4M661.56 60.36v8.4M658.82 64.49h8.4M663.02 60.29v8.4M660.28 64.42h8.4M664.48 60.22v8.4M661.74 64.36h8.4M665.94 60.16v8.4M663.20 64.29h8.4M667.40 60.09v8.4M664.66 64.23h8.4M668.86 60.03v8.4M666.12 64.17h8.4M670.32 59.97v8.4M667.58 64.11h8.4M671.78 59.91v8.4M669.05 64.05h8.4M673.25 59.85v8.4M670.51 64.00h8.4M674.71 59.80v8.4M671.97 63.94h8.4M676.17 59.74v8.4M673.43 63.89h8.4M677.63 59.69v8.4M674.89 63.83h8.4M679.09 59.63v8.4M676.35 63.78h8.4M680.55 59.58v8.4M677.81 63.73h8.4M682.01 59.53v8.4M679.27 63.69h8.4M683.47 59.49v8.4M680.73 63.64h8.4M684.93 59.44v8.4M682.19 63.59h8.4M686.39 59.39v8.4M683.65 63.55h8.4M687.85 59.35v8.4M685.11 63.50h8.4M689.31 59.30v8.4M686.57 63.46h8.4M690.77 59.26v8.4M688.03 63.42h8.4M692.23 59.22v8.4M689.50 63.38h8.4M693.70 59.18v8.4M690.96 63.34h8.4M695.16 59.14v8.4M692.42 63.30h8.4M696.62 59.10v8.4M693.88 63.26h8.4M698.08 59.06v8.4M695.34 63.22h8.4M699.54 59.02v8.4M696.80 63.19h8.4M701.00 58.99v8.4M698.26 63.15h8.4M702.46 58.95v8.4M699.72 63.12h8.4M703.92 58.92v8.4M701.18 63.09h8.4M705.38 58.89v8.4M702.64 63.05h8.4M706.84 58.85v8.4M704.10 63.02h8.4M708.30 58.82v8.4M705.56 62.99h8.4M709.76 58.79v8.4M707.02 62.96h8.4M711.22 58.76v8.4M708.49 62.93h8.4M712.69 58.73v8.4M709.95 62.91h8.4M714.15 58.71v8.4M711.41 62.88h8.4M715.61 58.68v8.4M712.87 62.85h8.4M717.07 58.65v8.4M714.33 62.83h8.4M718.53 58.63v8.4M715.79 62.80h8.4M719.99 58.60v8.4M717.25 62.78h8.4M721.45 58.58v8.4M718.71 62.75h8.4M722.91 58.55v8.4M720.17 62.73h8.4M724.37 58.53v8.4M721.63 62.70h8.4M725.83 58.50v8.4M723.09 62.68h8.4M727.29 58.48v8.4M724.55 62.66h8.4M728.75 58.46v8.4M726.01 62.64h8.4M730.21 58.44v8.4M727.48 62.62h8.4M731.68 58.42v8.4M728.94 62.60h8.4M733.14 58.40v8.4M730.40 62.58h8.4M734.60 58.38v8.4M731.86 62.56h8.4M736.06 58.36v8.4M733.32 62.54h8.4M737.52 58.34v8.4M734.78 62.53h8.4M738.98 58.33v8.4M736.24 62.51h8.4M740.44 58.31v8.4M737.70 62.49h8.4M741.90 58.29v8.4M739.16 62.48h8.4M743.36 58.28v8.4M740.62 62.46h8.4M744.82 58.26v8.4M742.08 62.44h8.4M746.28 58.24v8.4M743.54 62.43h8.4M747.74 58.23v8.4M745.00 62.41h8.4M749.20 58.21v8.4M746.46 62.40h8.4M750.66 58.20v8.4M747.93 62.39h8.4M752.13 58.19v8.4M749.39 62.37h8.4M753.59 58.17v8.4M750.85 62.36h8.4M755.05 58.16v8.4M752.31 62.35h8.4M756.51 58.15v8.4M753.77 62.34h8.4M757.97 58.14v8.4M755.23 62.32h8.4M759.43 58.12v8.4M756.69 62.31h8.4M760.89 58.11v8.4M758.15 62.30h8.4M762.35 58.10v8.4M759.61 62.29h8.4M763.81 58.09v8.4M761.07 62.28h8.4M765.27 58.08v8.4M762.53 62.27h8.4M766.73 58.07v8.4M763.99 62.26h8.4M768.19 58.06v8.4M765.45 62.25h8.4M769.65 58.05v8.4M766.92 62.24h8.4M771.12 58.04v8.4M768.38 62.23h8.4M772.58 58.03v8.4M769.84 62.22h8.4M774.04 58.02v8.4M771.30 62.21h8.4M775.50 58.01v8.4M772.76 62.20h8.4M776.96 58.00v8.4M774.22 62.20h8.4M778.42 58.00v8.4M775.68 62.19h8.4M779.88 57.99v8.4M777.14 62.18h8.4M781.34 57.98v8.4M778.60 62.17h8.4M782.80 57.97v8.4M780.06 62.17h8.4M784.26 57.97v8.4M781.52 62.16h8.4M785.72 57.96v8.4M782.98 62.15h8.4M787.18 57.95v8.4M784.44 62.15h8.4M788.64 57.95v8.4M785.91 62.14h8.4M790.11 57.94v8.4M787.37 62.13h8.4M791.57 57.93v8.4M788.83 62.13h8.4M793.03 57.93v8.4M790.29 62.12h8.4M794.49 57.92v8.4M791.75 62.12h8.4M795.95 57.92v8.4M793.21 62.11h8.4M797.41 57.91v8.4M794.67 62.11h8.4M798.87 57.91v8.4" stroke="#ff00ff" stroke-width="0.8" fill="none"/>
<rect x="215.30" y="24.34" width="584.30" height="413.71" stroke="#000" stroke-width="1.45" fill="none"/>
<text x="199.7" y="446.45" text-anchor="end">0</text>
<text x="199.7" y="371.23" text-anchor="end">20</text>
<text x="199.7" y="296.01" text-anchor="end">40</text>
<text x="199.7" y="220.79" text-anchor="end">60</text>
<text x="199.7" y="145.57" text-anchor="end">80</text>
<text x="199.7" y="70.35" text-anchor="end">100</text>
<text x="218.60" y="472.5" text-anchor="middle">0</text>
<text x="335.46" y="472.5" text-anchor="middle">1</text>
<text x="452.32" y="472.5" text-anchor="middle">2</text>
<text x="569.18" y="472.5" text-anchor="middle">3</text>
<text x="686.04" y="472.5" text-anchor="middle">4</text>
<text x="802.90" y="472.5" text-anchor="middle">5</text>
<text x="507.3" y="510.8" text-anchor="middle">x</text>
<text transform="translate(118,231.4) rotate(-90)" text-anchor="middle">B</text>
<text x="683.7" y="324.10" text-anchor="end">analytic solutions</text>
<text x="683.7" y="349.17" text-anchor="end">t=0.005</text>
<text x="683.7" y="374.64" text-anchor="end">t=0.025</text>
<text x="683.7" y="400.31" text-anchor="end">t=0.050</text>
<text x="683.7" y="425.58" text-anchor="end">t=0.100</text>
<path d="M699 314.55H769" stroke="#000" stroke-width="0.7" fill="none"/>
<path d="M729.65 340.27h8.4M733.85 336.07v8.4" stroke="#ff0000" stroke-width="0.9" fill="none"/>
<path d="M729.65 365.94h8.4M733.85 361.74v8.4" stroke="#00ff00" stroke-width="0.9" fill="none"/>
<path d="M729.65 391.61h8.4M733.85 387.41v8.4" stroke="#0000ff" stroke-width="0.9" fill="none"/>
<path d="M729.65 417.28h8.4M733.85 413.08v8.4" stroke="#ff00ff" stroke-width="0.9" fill="none"/>
</svg></body></html>
